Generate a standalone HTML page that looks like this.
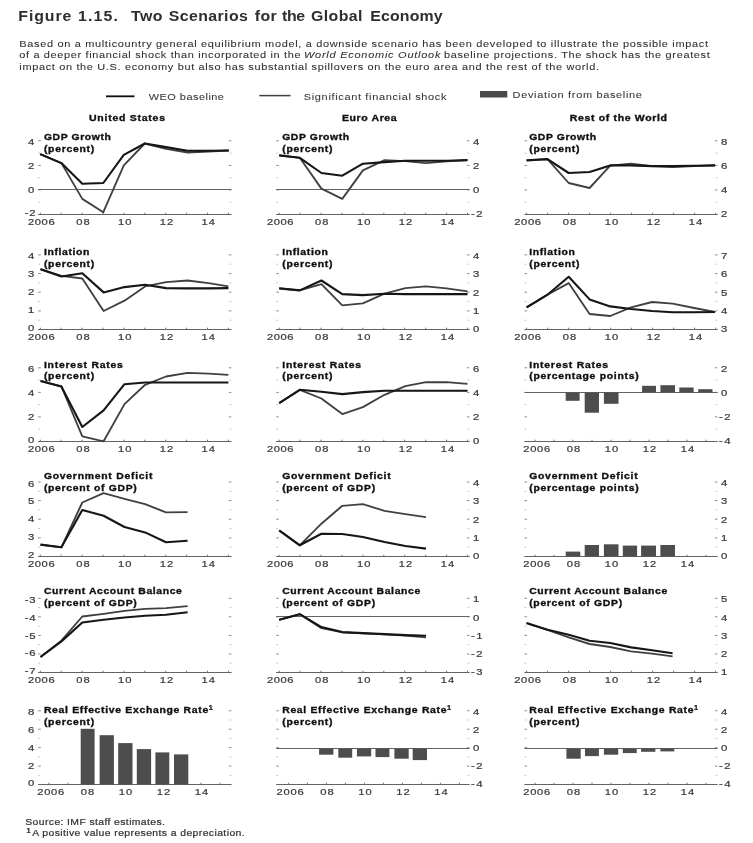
<!DOCTYPE html>
<html><head><meta charset="utf-8"><title>Figure 1.15. Two Scenarios for the Global Economy</title>
<style>
html,body{margin:0;padding:0;background:#fff;}
body{width:753px;height:843px;overflow:hidden;}
svg{display:block;font-family:"Liberation Sans",sans-serif;}
</style></head><body>
<svg width="753" height="843" viewBox="0 0 753 843">
<rect width="753" height="843" fill="#ffffff"/>
<defs><filter id="soft" x="0" y="0" width="100%" height="100%" filterUnits="userSpaceOnUse"><feGaussianBlur stdDeviation="0.45"/></filter></defs>
<g filter="url(#soft)">
<text transform="scale(1.04,1)" y="20.9" font-size="15.3" font-weight="bold" fill="#2e2e2e"><tspan x="17.6" textLength="51.1" lengthAdjust="spacing">Figure</tspan> <tspan x="75.0" textLength="38.4" lengthAdjust="spacing">1.15.</tspan> <tspan x="126.0" textLength="30.3" lengthAdjust="spacing">Two</tspan> <tspan x="162.3" textLength="76.0" lengthAdjust="spacing">Scenarios</tspan> <tspan x="244.9" textLength="21.2" lengthAdjust="spacing">for</tspan> <tspan x="271.2" textLength="22.1" lengthAdjust="spacing">the</tspan> <tspan x="299.0" textLength="49.6" lengthAdjust="spacing">Global</tspan> <tspan x="356.0" textLength="69.6" lengthAdjust="spacing">Economy</tspan></text>
<text transform="translate(19.3,47.1) scale(1.12,1)" font-size="9.8" stroke="#303030" stroke-width="0.08" fill="#303030" textLength="614.9" lengthAdjust="spacing">Based on a multicountry general equilibrium model, a downside scenario has been developed to illustrate the possible impact</text>
<text transform="translate(19.3,58.4) scale(1.12,1)" font-size="9.8" stroke="#303030" stroke-width="0.08" fill="#303030" textLength="251.1" lengthAdjust="spacing">of a deeper financial shock than incorporated in the</text>
<text transform="translate(304.0,58.4) scale(1.12,1)" font-size="9.8" font-style="italic" stroke="#303030" stroke-width="0.08" fill="#303030" textLength="121.8" lengthAdjust="spacing">World Economic Outlook</text>
<text transform="translate(443.9,58.4) scale(1.12,1)" font-size="9.8" stroke="#303030" stroke-width="0.08" fill="#303030" textLength="237.4" lengthAdjust="spacing">baseline projections. The shock has the greatest</text>
<text transform="translate(19.3,70.0) scale(1.12,1)" font-size="9.8" stroke="#303030" stroke-width="0.08" fill="#303030" textLength="517.6" lengthAdjust="spacing">impact on the U.S. economy but also has substantial spillovers on the euro area and the rest of the world.</text>
<line x1="106" y1="96.3" x2="134.5" y2="96.3" stroke="#111" stroke-width="1.8"/>
<text transform="translate(148.7,99.6) scale(1.12,1)" font-size="9.8" stroke="#383838" stroke-width="0.08" fill="#383838" textLength="67.2" lengthAdjust="spacing">WEO baseline</text>
<line x1="259.3" y1="95.6" x2="290.5" y2="95.6" stroke="#3c3c3c" stroke-width="1.5"/>
<text transform="translate(303.8,99.6) scale(1.12,1)" font-size="9.8" stroke="#383838" stroke-width="0.08" fill="#383838" textLength="127.4" lengthAdjust="spacing">Significant financial shock</text>
<rect x="480" y="91" width="27.3" height="6.5" fill="#4a4a4a"/>
<text transform="translate(512.6,98.3) scale(1.12,1)" font-size="9.8" stroke="#383838" stroke-width="0.08" fill="#383838" textLength="115.5" lengthAdjust="spacing">Deviation from baseline</text>
<text transform="translate(89.0,120.7) scale(1.12,1)" font-size="9.4" font-weight="bold" stroke="#111" stroke-width="0.35" fill="#111" textLength="67.9" lengthAdjust="spacing">United States</text>
<text transform="translate(342.0,120.7) scale(1.12,1)" font-size="9.4" font-weight="bold" stroke="#111" stroke-width="0.35" fill="#111" textLength="48.8" lengthAdjust="spacing">Euro Area</text>
<text transform="translate(569.7,120.7) scale(1.12,1)" font-size="9.4" font-weight="bold" stroke="#111" stroke-width="0.35" fill="#111" textLength="86.9" lengthAdjust="spacing">Rest of the World</text>
<line x1="38.2" y1="140.8" x2="40.8" y2="140.8" stroke="#8c8c8c" stroke-width="1"/>
<line x1="228.8" y1="140.8" x2="231.4" y2="140.8" stroke="#8c8c8c" stroke-width="1"/>
<line x1="38.2" y1="153.1" x2="40.2" y2="153.1" stroke="#c6c6c6" stroke-width="1"/>
<line x1="229.4" y1="153.1" x2="231.4" y2="153.1" stroke="#c6c6c6" stroke-width="1"/>
<line x1="38.2" y1="165.4" x2="40.8" y2="165.4" stroke="#8c8c8c" stroke-width="1"/>
<line x1="228.8" y1="165.4" x2="231.4" y2="165.4" stroke="#8c8c8c" stroke-width="1"/>
<line x1="38.2" y1="177.7" x2="40.2" y2="177.7" stroke="#c6c6c6" stroke-width="1"/>
<line x1="229.4" y1="177.7" x2="231.4" y2="177.7" stroke="#c6c6c6" stroke-width="1"/>
<line x1="38.2" y1="189.9" x2="40.8" y2="189.9" stroke="#8c8c8c" stroke-width="1"/>
<line x1="228.8" y1="189.9" x2="231.4" y2="189.9" stroke="#8c8c8c" stroke-width="1"/>
<line x1="38.2" y1="202.2" x2="40.2" y2="202.2" stroke="#c6c6c6" stroke-width="1"/>
<line x1="229.4" y1="202.2" x2="231.4" y2="202.2" stroke="#c6c6c6" stroke-width="1"/>
<line x1="38.2" y1="214.5" x2="40.8" y2="214.5" stroke="#8c8c8c" stroke-width="1"/>
<line x1="228.8" y1="214.5" x2="231.4" y2="214.5" stroke="#8c8c8c" stroke-width="1"/>
<text transform="translate(28.0,145.3) scale(1.22,1)" font-size="9.3" stroke="#3a3a3a" stroke-width="0.22" fill="#3a3a3a" textLength="5.3" lengthAdjust="spacing">4</text>
<text transform="translate(28.0,168.9) scale(1.22,1)" font-size="9.3" stroke="#3a3a3a" stroke-width="0.22" fill="#3a3a3a" textLength="5.3" lengthAdjust="spacing">2</text>
<text transform="translate(28.0,192.6) scale(1.22,1)" font-size="9.3" stroke="#3a3a3a" stroke-width="0.22" fill="#3a3a3a" textLength="5.3" lengthAdjust="spacing">0</text>
<text transform="translate(24.7,216.2) scale(1.22,1)" font-size="9.3" stroke="#3a3a3a" stroke-width="0.22" fill="#3a3a3a" textLength="8.9" lengthAdjust="spacing">-2</text>
<line x1="38.2" y1="189.5" x2="231.4" y2="189.5" stroke="#646464" stroke-width="1"/>
<line x1="38.2" y1="214.5" x2="231.4" y2="214.5" stroke="#646464" stroke-width="1"/>
<line x1="40.3" y1="212.7" x2="40.3" y2="214.5" stroke="#646464" stroke-width="0.9"/>
<line x1="61.2" y1="212.7" x2="61.2" y2="214.5" stroke="#646464" stroke-width="0.9"/>
<line x1="82.1" y1="212.7" x2="82.1" y2="214.5" stroke="#646464" stroke-width="0.9"/>
<line x1="103.0" y1="212.7" x2="103.0" y2="214.5" stroke="#646464" stroke-width="0.9"/>
<line x1="123.9" y1="212.7" x2="123.9" y2="214.5" stroke="#646464" stroke-width="0.9"/>
<line x1="144.8" y1="212.7" x2="144.8" y2="214.5" stroke="#646464" stroke-width="0.9"/>
<line x1="165.7" y1="212.7" x2="165.7" y2="214.5" stroke="#646464" stroke-width="0.9"/>
<line x1="186.6" y1="212.7" x2="186.6" y2="214.5" stroke="#646464" stroke-width="0.9"/>
<line x1="207.5" y1="212.7" x2="207.5" y2="214.5" stroke="#646464" stroke-width="0.9"/>
<line x1="228.4" y1="212.7" x2="228.4" y2="214.5" stroke="#646464" stroke-width="0.9"/>
<text transform="translate(28.0,225.3) scale(1.2,1)" font-size="9.3" stroke="#3a3a3a" stroke-width="0.22" fill="#3a3a3a" textLength="22.2" lengthAdjust="spacing">2006</text>
<text transform="translate(76.2,225.3) scale(1.2,1)" font-size="9.3" stroke="#3a3a3a" stroke-width="0.22" fill="#3a3a3a" textLength="11.2" lengthAdjust="spacing">08</text>
<text transform="translate(118.0,225.3) scale(1.2,1)" font-size="9.3" stroke="#3a3a3a" stroke-width="0.22" fill="#3a3a3a" textLength="11.2" lengthAdjust="spacing">10</text>
<text transform="translate(159.8,225.3) scale(1.2,1)" font-size="9.3" stroke="#3a3a3a" stroke-width="0.22" fill="#3a3a3a" textLength="11.2" lengthAdjust="spacing">12</text>
<text transform="translate(201.6,225.3) scale(1.2,1)" font-size="9.3" stroke="#3a3a3a" stroke-width="0.22" fill="#3a3a3a" textLength="11.2" lengthAdjust="spacing">14</text>
<polyline points="40.2,154.1 61.4,163.1 82.3,198.9 103.3,212.2 123.8,165.4 144.8,143.5 166.0,148.8 187.6,152.5 208.5,151.5 228.8,150.5" fill="none" stroke="#414141" stroke-width="1.85" stroke-linejoin="round"/>
<polyline points="40.2,154.1 61.4,163.1 82.3,183.7 103.3,183.0 123.8,154.8 144.8,143.5 166.0,147.1 187.6,150.8 208.5,150.8 228.8,150.5" fill="none" stroke="#151515" stroke-width="2.1" stroke-linejoin="round"/>
<text transform="translate(43.9,140.1) scale(1.12,1)" font-size="9.3" font-weight="bold" stroke="#111" stroke-width="0.35" fill="#111" textLength="59.8" lengthAdjust="spacing">GDP Growth</text>
<text transform="translate(43.9,152.2) scale(1.12,1)" font-size="9.3" font-weight="bold" stroke="#111" stroke-width="0.35" fill="#111" textLength="44.9" lengthAdjust="spacing">(percent)</text>
<line x1="276.2" y1="140.8" x2="278.8" y2="140.8" stroke="#8c8c8c" stroke-width="1"/>
<line x1="466.9" y1="140.8" x2="469.5" y2="140.8" stroke="#8c8c8c" stroke-width="1"/>
<line x1="276.2" y1="153.1" x2="278.2" y2="153.1" stroke="#c6c6c6" stroke-width="1"/>
<line x1="467.5" y1="153.1" x2="469.5" y2="153.1" stroke="#c6c6c6" stroke-width="1"/>
<line x1="276.2" y1="165.4" x2="278.8" y2="165.4" stroke="#8c8c8c" stroke-width="1"/>
<line x1="466.9" y1="165.4" x2="469.5" y2="165.4" stroke="#8c8c8c" stroke-width="1"/>
<line x1="276.2" y1="177.7" x2="278.2" y2="177.7" stroke="#c6c6c6" stroke-width="1"/>
<line x1="467.5" y1="177.7" x2="469.5" y2="177.7" stroke="#c6c6c6" stroke-width="1"/>
<line x1="276.2" y1="189.9" x2="278.8" y2="189.9" stroke="#8c8c8c" stroke-width="1"/>
<line x1="466.9" y1="189.9" x2="469.5" y2="189.9" stroke="#8c8c8c" stroke-width="1"/>
<line x1="276.2" y1="202.2" x2="278.2" y2="202.2" stroke="#c6c6c6" stroke-width="1"/>
<line x1="467.5" y1="202.2" x2="469.5" y2="202.2" stroke="#c6c6c6" stroke-width="1"/>
<line x1="276.2" y1="214.5" x2="278.8" y2="214.5" stroke="#8c8c8c" stroke-width="1"/>
<line x1="466.9" y1="214.5" x2="469.5" y2="214.5" stroke="#8c8c8c" stroke-width="1"/>
<text transform="translate(473.0,144.8) scale(1.22,1)" font-size="9.3" stroke="#3a3a3a" stroke-width="0.22" fill="#3a3a3a" textLength="5.3" lengthAdjust="spacing">4</text>
<text transform="translate(473.0,168.9) scale(1.22,1)" font-size="9.3" stroke="#3a3a3a" stroke-width="0.22" fill="#3a3a3a" textLength="5.3" lengthAdjust="spacing">2</text>
<text transform="translate(473.0,193.0) scale(1.22,1)" font-size="9.3" stroke="#3a3a3a" stroke-width="0.22" fill="#3a3a3a" textLength="5.3" lengthAdjust="spacing">0</text>
<text transform="translate(470.9,217.1) scale(1.22,1)" font-size="9.3" stroke="#3a3a3a" stroke-width="0.22" fill="#3a3a3a" textLength="9.5" lengthAdjust="spacing">-2</text>
<line x1="276.2" y1="189.5" x2="469.5" y2="189.5" stroke="#646464" stroke-width="1"/>
<line x1="276.2" y1="214.5" x2="469.5" y2="214.5" stroke="#646464" stroke-width="1"/>
<line x1="279.2" y1="212.7" x2="279.2" y2="214.5" stroke="#646464" stroke-width="0.9"/>
<line x1="300.1" y1="212.7" x2="300.1" y2="214.5" stroke="#646464" stroke-width="0.9"/>
<line x1="321.0" y1="212.7" x2="321.0" y2="214.5" stroke="#646464" stroke-width="0.9"/>
<line x1="342.0" y1="212.7" x2="342.0" y2="214.5" stroke="#646464" stroke-width="0.9"/>
<line x1="362.9" y1="212.7" x2="362.9" y2="214.5" stroke="#646464" stroke-width="0.9"/>
<line x1="383.8" y1="212.7" x2="383.8" y2="214.5" stroke="#646464" stroke-width="0.9"/>
<line x1="404.7" y1="212.7" x2="404.7" y2="214.5" stroke="#646464" stroke-width="0.9"/>
<line x1="425.7" y1="212.7" x2="425.7" y2="214.5" stroke="#646464" stroke-width="0.9"/>
<line x1="446.6" y1="212.7" x2="446.6" y2="214.5" stroke="#646464" stroke-width="0.9"/>
<line x1="467.5" y1="212.7" x2="467.5" y2="214.5" stroke="#646464" stroke-width="0.9"/>
<text transform="translate(266.9,225.3) scale(1.2,1)" font-size="9.3" stroke="#3a3a3a" stroke-width="0.22" fill="#3a3a3a" textLength="22.2" lengthAdjust="spacing">2006</text>
<text transform="translate(315.1,225.3) scale(1.2,1)" font-size="9.3" stroke="#3a3a3a" stroke-width="0.22" fill="#3a3a3a" textLength="11.2" lengthAdjust="spacing">08</text>
<text transform="translate(357.0,225.3) scale(1.2,1)" font-size="9.3" stroke="#3a3a3a" stroke-width="0.22" fill="#3a3a3a" textLength="11.2" lengthAdjust="spacing">10</text>
<text transform="translate(398.8,225.3) scale(1.2,1)" font-size="9.3" stroke="#3a3a3a" stroke-width="0.22" fill="#3a3a3a" textLength="11.2" lengthAdjust="spacing">12</text>
<text transform="translate(440.7,225.3) scale(1.2,1)" font-size="9.3" stroke="#3a3a3a" stroke-width="0.22" fill="#3a3a3a" textLength="11.2" lengthAdjust="spacing">14</text>
<polyline points="279.2,155.4 299.8,157.8 321.4,188.6 342.3,198.9 362.9,170.4 384.5,160.1 405.4,161.1 426.0,163.1 446.5,161.4 467.5,160.1" fill="none" stroke="#414141" stroke-width="1.85" stroke-linejoin="round"/>
<polyline points="279.2,155.4 299.8,157.8 321.4,173.0 342.3,175.7 362.9,163.7 384.5,162.1 405.4,160.8 426.0,160.8 446.5,160.8 467.5,160.1" fill="none" stroke="#151515" stroke-width="2.1" stroke-linejoin="round"/>
<text transform="translate(282.2,140.1) scale(1.12,1)" font-size="9.3" font-weight="bold" stroke="#111" stroke-width="0.35" fill="#111" textLength="59.8" lengthAdjust="spacing">GDP Growth</text>
<text transform="translate(282.2,152.2) scale(1.12,1)" font-size="9.3" font-weight="bold" stroke="#111" stroke-width="0.35" fill="#111" textLength="44.9" lengthAdjust="spacing">(percent)</text>
<line x1="524.5" y1="140.8" x2="527.1" y2="140.8" stroke="#8c8c8c" stroke-width="1"/>
<line x1="714.9" y1="140.8" x2="717.5" y2="140.8" stroke="#8c8c8c" stroke-width="1"/>
<line x1="524.5" y1="153.1" x2="526.5" y2="153.1" stroke="#c6c6c6" stroke-width="1"/>
<line x1="715.5" y1="153.1" x2="717.5" y2="153.1" stroke="#c6c6c6" stroke-width="1"/>
<line x1="524.5" y1="165.4" x2="527.1" y2="165.4" stroke="#8c8c8c" stroke-width="1"/>
<line x1="714.9" y1="165.4" x2="717.5" y2="165.4" stroke="#8c8c8c" stroke-width="1"/>
<line x1="524.5" y1="177.7" x2="526.5" y2="177.7" stroke="#c6c6c6" stroke-width="1"/>
<line x1="715.5" y1="177.7" x2="717.5" y2="177.7" stroke="#c6c6c6" stroke-width="1"/>
<line x1="524.5" y1="189.9" x2="527.1" y2="189.9" stroke="#8c8c8c" stroke-width="1"/>
<line x1="714.9" y1="189.9" x2="717.5" y2="189.9" stroke="#8c8c8c" stroke-width="1"/>
<line x1="524.5" y1="202.2" x2="526.5" y2="202.2" stroke="#c6c6c6" stroke-width="1"/>
<line x1="715.5" y1="202.2" x2="717.5" y2="202.2" stroke="#c6c6c6" stroke-width="1"/>
<line x1="524.5" y1="214.5" x2="527.1" y2="214.5" stroke="#8c8c8c" stroke-width="1"/>
<line x1="714.9" y1="214.5" x2="717.5" y2="214.5" stroke="#8c8c8c" stroke-width="1"/>
<text transform="translate(721.0,144.8) scale(1.22,1)" font-size="9.3" stroke="#3a3a3a" stroke-width="0.22" fill="#3a3a3a" textLength="5.3" lengthAdjust="spacing">8</text>
<text transform="translate(721.0,168.9) scale(1.22,1)" font-size="9.3" stroke="#3a3a3a" stroke-width="0.22" fill="#3a3a3a" textLength="5.3" lengthAdjust="spacing">6</text>
<text transform="translate(721.0,193.0) scale(1.22,1)" font-size="9.3" stroke="#3a3a3a" stroke-width="0.22" fill="#3a3a3a" textLength="5.3" lengthAdjust="spacing">4</text>
<text transform="translate(721.0,217.1) scale(1.22,1)" font-size="9.3" stroke="#3a3a3a" stroke-width="0.22" fill="#3a3a3a" textLength="5.3" lengthAdjust="spacing">2</text>
<line x1="524.5" y1="214.5" x2="717.5" y2="214.5" stroke="#646464" stroke-width="1"/>
<line x1="526.6" y1="212.7" x2="526.6" y2="214.5" stroke="#646464" stroke-width="0.9"/>
<line x1="547.6" y1="212.7" x2="547.6" y2="214.5" stroke="#646464" stroke-width="0.9"/>
<line x1="568.6" y1="212.7" x2="568.6" y2="214.5" stroke="#646464" stroke-width="0.9"/>
<line x1="589.6" y1="212.7" x2="589.6" y2="214.5" stroke="#646464" stroke-width="0.9"/>
<line x1="610.6" y1="212.7" x2="610.6" y2="214.5" stroke="#646464" stroke-width="0.9"/>
<line x1="631.6" y1="212.7" x2="631.6" y2="214.5" stroke="#646464" stroke-width="0.9"/>
<line x1="652.6" y1="212.7" x2="652.6" y2="214.5" stroke="#646464" stroke-width="0.9"/>
<line x1="673.6" y1="212.7" x2="673.6" y2="214.5" stroke="#646464" stroke-width="0.9"/>
<line x1="694.6" y1="212.7" x2="694.6" y2="214.5" stroke="#646464" stroke-width="0.9"/>
<line x1="715.6" y1="212.7" x2="715.6" y2="214.5" stroke="#646464" stroke-width="0.9"/>
<text transform="translate(514.3,225.3) scale(1.2,1)" font-size="9.3" stroke="#3a3a3a" stroke-width="0.22" fill="#3a3a3a" textLength="22.2" lengthAdjust="spacing">2006</text>
<text transform="translate(562.7,225.3) scale(1.2,1)" font-size="9.3" stroke="#3a3a3a" stroke-width="0.22" fill="#3a3a3a" textLength="11.2" lengthAdjust="spacing">08</text>
<text transform="translate(604.7,225.3) scale(1.2,1)" font-size="9.3" stroke="#3a3a3a" stroke-width="0.22" fill="#3a3a3a" textLength="11.2" lengthAdjust="spacing">10</text>
<text transform="translate(646.7,225.3) scale(1.2,1)" font-size="9.3" stroke="#3a3a3a" stroke-width="0.22" fill="#3a3a3a" textLength="11.2" lengthAdjust="spacing">12</text>
<text transform="translate(688.7,225.3) scale(1.2,1)" font-size="9.3" stroke="#3a3a3a" stroke-width="0.22" fill="#3a3a3a" textLength="11.2" lengthAdjust="spacing">14</text>
<polyline points="526.6,160.4 547.5,159.1 568.7,183.0 589.6,188.0 610.2,165.7 631.1,163.7 652.1,166.1 672.6,167.1 694.2,166.1 715.1,165.4" fill="none" stroke="#414141" stroke-width="1.85" stroke-linejoin="round"/>
<polyline points="526.6,160.4 547.5,159.1 568.7,173.0 589.6,172.0 610.2,165.4 631.1,165.4 652.1,166.1 672.6,166.1 694.2,165.7 715.1,165.4" fill="none" stroke="#151515" stroke-width="2.1" stroke-linejoin="round"/>
<text transform="translate(529.2,140.1) scale(1.12,1)" font-size="9.3" font-weight="bold" stroke="#111" stroke-width="0.35" fill="#111" textLength="59.8" lengthAdjust="spacing">GDP Growth</text>
<text transform="translate(529.2,152.2) scale(1.12,1)" font-size="9.3" font-weight="bold" stroke="#111" stroke-width="0.35" fill="#111" textLength="44.9" lengthAdjust="spacing">(percent)</text>
<line x1="38.2" y1="254.9" x2="40.8" y2="254.9" stroke="#8c8c8c" stroke-width="1"/>
<line x1="228.8" y1="254.9" x2="231.4" y2="254.9" stroke="#8c8c8c" stroke-width="1"/>
<line x1="38.2" y1="264.2" x2="40.2" y2="264.2" stroke="#c6c6c6" stroke-width="1"/>
<line x1="229.4" y1="264.2" x2="231.4" y2="264.2" stroke="#c6c6c6" stroke-width="1"/>
<line x1="38.2" y1="273.6" x2="40.8" y2="273.6" stroke="#8c8c8c" stroke-width="1"/>
<line x1="228.8" y1="273.6" x2="231.4" y2="273.6" stroke="#8c8c8c" stroke-width="1"/>
<line x1="38.2" y1="282.9" x2="40.2" y2="282.9" stroke="#c6c6c6" stroke-width="1"/>
<line x1="229.4" y1="282.9" x2="231.4" y2="282.9" stroke="#c6c6c6" stroke-width="1"/>
<line x1="38.2" y1="292.2" x2="40.8" y2="292.2" stroke="#8c8c8c" stroke-width="1"/>
<line x1="228.8" y1="292.2" x2="231.4" y2="292.2" stroke="#8c8c8c" stroke-width="1"/>
<line x1="38.2" y1="301.5" x2="40.2" y2="301.5" stroke="#c6c6c6" stroke-width="1"/>
<line x1="229.4" y1="301.5" x2="231.4" y2="301.5" stroke="#c6c6c6" stroke-width="1"/>
<line x1="38.2" y1="310.9" x2="40.8" y2="310.9" stroke="#8c8c8c" stroke-width="1"/>
<line x1="228.8" y1="310.9" x2="231.4" y2="310.9" stroke="#8c8c8c" stroke-width="1"/>
<line x1="38.2" y1="320.2" x2="40.2" y2="320.2" stroke="#c6c6c6" stroke-width="1"/>
<line x1="229.4" y1="320.2" x2="231.4" y2="320.2" stroke="#c6c6c6" stroke-width="1"/>
<line x1="38.2" y1="329.5" x2="40.8" y2="329.5" stroke="#8c8c8c" stroke-width="1"/>
<line x1="228.8" y1="329.5" x2="231.4" y2="329.5" stroke="#8c8c8c" stroke-width="1"/>
<text transform="translate(28.0,259.4) scale(1.22,1)" font-size="9.3" stroke="#3a3a3a" stroke-width="0.22" fill="#3a3a3a" textLength="5.3" lengthAdjust="spacing">4</text>
<text transform="translate(28.0,277.4) scale(1.22,1)" font-size="9.3" stroke="#3a3a3a" stroke-width="0.22" fill="#3a3a3a" textLength="5.3" lengthAdjust="spacing">3</text>
<text transform="translate(28.0,295.3) scale(1.22,1)" font-size="9.3" stroke="#3a3a3a" stroke-width="0.22" fill="#3a3a3a" textLength="5.3" lengthAdjust="spacing">2</text>
<text transform="translate(28.0,313.2) scale(1.22,1)" font-size="9.3" stroke="#3a3a3a" stroke-width="0.22" fill="#3a3a3a" textLength="5.3" lengthAdjust="spacing">1</text>
<text transform="translate(28.0,331.2) scale(1.22,1)" font-size="9.3" stroke="#3a3a3a" stroke-width="0.22" fill="#3a3a3a" textLength="5.3" lengthAdjust="spacing">0</text>
<line x1="38.2" y1="329.5" x2="231.4" y2="329.5" stroke="#646464" stroke-width="1"/>
<line x1="40.3" y1="327.7" x2="40.3" y2="329.5" stroke="#646464" stroke-width="0.9"/>
<line x1="61.2" y1="327.7" x2="61.2" y2="329.5" stroke="#646464" stroke-width="0.9"/>
<line x1="82.1" y1="327.7" x2="82.1" y2="329.5" stroke="#646464" stroke-width="0.9"/>
<line x1="103.0" y1="327.7" x2="103.0" y2="329.5" stroke="#646464" stroke-width="0.9"/>
<line x1="123.9" y1="327.7" x2="123.9" y2="329.5" stroke="#646464" stroke-width="0.9"/>
<line x1="144.8" y1="327.7" x2="144.8" y2="329.5" stroke="#646464" stroke-width="0.9"/>
<line x1="165.7" y1="327.7" x2="165.7" y2="329.5" stroke="#646464" stroke-width="0.9"/>
<line x1="186.6" y1="327.7" x2="186.6" y2="329.5" stroke="#646464" stroke-width="0.9"/>
<line x1="207.5" y1="327.7" x2="207.5" y2="329.5" stroke="#646464" stroke-width="0.9"/>
<line x1="228.4" y1="327.7" x2="228.4" y2="329.5" stroke="#646464" stroke-width="0.9"/>
<text transform="translate(28.0,340.3) scale(1.2,1)" font-size="9.3" stroke="#3a3a3a" stroke-width="0.22" fill="#3a3a3a" textLength="22.2" lengthAdjust="spacing">2006</text>
<text transform="translate(76.2,340.3) scale(1.2,1)" font-size="9.3" stroke="#3a3a3a" stroke-width="0.22" fill="#3a3a3a" textLength="11.2" lengthAdjust="spacing">08</text>
<text transform="translate(118.0,340.3) scale(1.2,1)" font-size="9.3" stroke="#3a3a3a" stroke-width="0.22" fill="#3a3a3a" textLength="11.2" lengthAdjust="spacing">10</text>
<text transform="translate(159.8,340.3) scale(1.2,1)" font-size="9.3" stroke="#3a3a3a" stroke-width="0.22" fill="#3a3a3a" textLength="11.2" lengthAdjust="spacing">12</text>
<text transform="translate(201.6,340.3) scale(1.2,1)" font-size="9.3" stroke="#3a3a3a" stroke-width="0.22" fill="#3a3a3a" textLength="11.2" lengthAdjust="spacing">14</text>
<polyline points="40.5,269.2 61.4,275.8 82.3,278.5 103.6,311.0 124.5,300.7 145.1,286.4 166.0,282.1 187.6,280.5 208.5,283.1 228.4,286.4" fill="none" stroke="#414141" stroke-width="1.85" stroke-linejoin="round"/>
<polyline points="40.5,269.2 61.4,276.5 82.3,273.2 103.6,292.4 124.5,287.1 145.1,284.8 166.0,288.1 187.6,288.4 208.5,288.4 228.4,288.1" fill="none" stroke="#151515" stroke-width="2.1" stroke-linejoin="round"/>
<text transform="translate(43.9,254.6) scale(1.12,1)" font-size="9.3" font-weight="bold" stroke="#111" stroke-width="0.35" fill="#111" textLength="40.7" lengthAdjust="spacing">Inflation</text>
<text transform="translate(43.9,266.6) scale(1.12,1)" font-size="9.3" font-weight="bold" stroke="#111" stroke-width="0.35" fill="#111" textLength="44.9" lengthAdjust="spacing">(percent)</text>
<line x1="276.2" y1="254.9" x2="278.8" y2="254.9" stroke="#8c8c8c" stroke-width="1"/>
<line x1="466.9" y1="254.9" x2="469.5" y2="254.9" stroke="#8c8c8c" stroke-width="1"/>
<line x1="276.2" y1="264.2" x2="278.2" y2="264.2" stroke="#c6c6c6" stroke-width="1"/>
<line x1="467.5" y1="264.2" x2="469.5" y2="264.2" stroke="#c6c6c6" stroke-width="1"/>
<line x1="276.2" y1="273.6" x2="278.8" y2="273.6" stroke="#8c8c8c" stroke-width="1"/>
<line x1="466.9" y1="273.6" x2="469.5" y2="273.6" stroke="#8c8c8c" stroke-width="1"/>
<line x1="276.2" y1="282.9" x2="278.2" y2="282.9" stroke="#c6c6c6" stroke-width="1"/>
<line x1="467.5" y1="282.9" x2="469.5" y2="282.9" stroke="#c6c6c6" stroke-width="1"/>
<line x1="276.2" y1="292.2" x2="278.8" y2="292.2" stroke="#8c8c8c" stroke-width="1"/>
<line x1="466.9" y1="292.2" x2="469.5" y2="292.2" stroke="#8c8c8c" stroke-width="1"/>
<line x1="276.2" y1="301.5" x2="278.2" y2="301.5" stroke="#c6c6c6" stroke-width="1"/>
<line x1="467.5" y1="301.5" x2="469.5" y2="301.5" stroke="#c6c6c6" stroke-width="1"/>
<line x1="276.2" y1="310.9" x2="278.8" y2="310.9" stroke="#8c8c8c" stroke-width="1"/>
<line x1="466.9" y1="310.9" x2="469.5" y2="310.9" stroke="#8c8c8c" stroke-width="1"/>
<line x1="276.2" y1="320.2" x2="278.2" y2="320.2" stroke="#c6c6c6" stroke-width="1"/>
<line x1="467.5" y1="320.2" x2="469.5" y2="320.2" stroke="#c6c6c6" stroke-width="1"/>
<line x1="276.2" y1="329.5" x2="278.8" y2="329.5" stroke="#8c8c8c" stroke-width="1"/>
<line x1="466.9" y1="329.5" x2="469.5" y2="329.5" stroke="#8c8c8c" stroke-width="1"/>
<text transform="translate(473.0,258.9) scale(1.22,1)" font-size="9.3" stroke="#3a3a3a" stroke-width="0.22" fill="#3a3a3a" textLength="5.3" lengthAdjust="spacing">4</text>
<text transform="translate(473.0,277.2) scale(1.22,1)" font-size="9.3" stroke="#3a3a3a" stroke-width="0.22" fill="#3a3a3a" textLength="5.3" lengthAdjust="spacing">3</text>
<text transform="translate(473.0,295.5) scale(1.22,1)" font-size="9.3" stroke="#3a3a3a" stroke-width="0.22" fill="#3a3a3a" textLength="5.3" lengthAdjust="spacing">2</text>
<text transform="translate(473.0,313.8) scale(1.22,1)" font-size="9.3" stroke="#3a3a3a" stroke-width="0.22" fill="#3a3a3a" textLength="5.3" lengthAdjust="spacing">1</text>
<text transform="translate(473.0,332.1) scale(1.22,1)" font-size="9.3" stroke="#3a3a3a" stroke-width="0.22" fill="#3a3a3a" textLength="5.3" lengthAdjust="spacing">0</text>
<line x1="276.2" y1="329.5" x2="469.5" y2="329.5" stroke="#646464" stroke-width="1"/>
<line x1="279.2" y1="327.7" x2="279.2" y2="329.5" stroke="#646464" stroke-width="0.9"/>
<line x1="300.1" y1="327.7" x2="300.1" y2="329.5" stroke="#646464" stroke-width="0.9"/>
<line x1="321.0" y1="327.7" x2="321.0" y2="329.5" stroke="#646464" stroke-width="0.9"/>
<line x1="342.0" y1="327.7" x2="342.0" y2="329.5" stroke="#646464" stroke-width="0.9"/>
<line x1="362.9" y1="327.7" x2="362.9" y2="329.5" stroke="#646464" stroke-width="0.9"/>
<line x1="383.8" y1="327.7" x2="383.8" y2="329.5" stroke="#646464" stroke-width="0.9"/>
<line x1="404.7" y1="327.7" x2="404.7" y2="329.5" stroke="#646464" stroke-width="0.9"/>
<line x1="425.7" y1="327.7" x2="425.7" y2="329.5" stroke="#646464" stroke-width="0.9"/>
<line x1="446.6" y1="327.7" x2="446.6" y2="329.5" stroke="#646464" stroke-width="0.9"/>
<line x1="467.5" y1="327.7" x2="467.5" y2="329.5" stroke="#646464" stroke-width="0.9"/>
<text transform="translate(266.9,340.3) scale(1.2,1)" font-size="9.3" stroke="#3a3a3a" stroke-width="0.22" fill="#3a3a3a" textLength="22.2" lengthAdjust="spacing">2006</text>
<text transform="translate(315.1,340.3) scale(1.2,1)" font-size="9.3" stroke="#3a3a3a" stroke-width="0.22" fill="#3a3a3a" textLength="11.2" lengthAdjust="spacing">08</text>
<text transform="translate(357.0,340.3) scale(1.2,1)" font-size="9.3" stroke="#3a3a3a" stroke-width="0.22" fill="#3a3a3a" textLength="11.2" lengthAdjust="spacing">10</text>
<text transform="translate(398.8,340.3) scale(1.2,1)" font-size="9.3" stroke="#3a3a3a" stroke-width="0.22" fill="#3a3a3a" textLength="11.2" lengthAdjust="spacing">12</text>
<text transform="translate(440.7,340.3) scale(1.2,1)" font-size="9.3" stroke="#3a3a3a" stroke-width="0.22" fill="#3a3a3a" textLength="11.2" lengthAdjust="spacing">14</text>
<polyline points="279.2,288.4 299.8,290.4 321.4,284.1 342.3,305.4 362.9,303.4 384.5,293.7 405.4,288.1 426.0,286.4 446.5,288.4 467.5,291.4" fill="none" stroke="#414141" stroke-width="1.85" stroke-linejoin="round"/>
<polyline points="279.2,288.4 299.8,290.4 321.4,280.5 342.3,294.1 362.9,295.1 384.5,293.7 405.4,294.1 426.0,294.1 446.5,294.1 467.5,294.1" fill="none" stroke="#151515" stroke-width="2.1" stroke-linejoin="round"/>
<text transform="translate(282.2,254.6) scale(1.12,1)" font-size="9.3" font-weight="bold" stroke="#111" stroke-width="0.35" fill="#111" textLength="40.7" lengthAdjust="spacing">Inflation</text>
<text transform="translate(282.2,266.6) scale(1.12,1)" font-size="9.3" font-weight="bold" stroke="#111" stroke-width="0.35" fill="#111" textLength="44.9" lengthAdjust="spacing">(percent)</text>
<line x1="524.5" y1="254.9" x2="527.1" y2="254.9" stroke="#8c8c8c" stroke-width="1"/>
<line x1="714.9" y1="254.9" x2="717.5" y2="254.9" stroke="#8c8c8c" stroke-width="1"/>
<line x1="524.5" y1="264.2" x2="526.5" y2="264.2" stroke="#c6c6c6" stroke-width="1"/>
<line x1="715.5" y1="264.2" x2="717.5" y2="264.2" stroke="#c6c6c6" stroke-width="1"/>
<line x1="524.5" y1="273.6" x2="527.1" y2="273.6" stroke="#8c8c8c" stroke-width="1"/>
<line x1="714.9" y1="273.6" x2="717.5" y2="273.6" stroke="#8c8c8c" stroke-width="1"/>
<line x1="524.5" y1="282.9" x2="526.5" y2="282.9" stroke="#c6c6c6" stroke-width="1"/>
<line x1="715.5" y1="282.9" x2="717.5" y2="282.9" stroke="#c6c6c6" stroke-width="1"/>
<line x1="524.5" y1="292.2" x2="527.1" y2="292.2" stroke="#8c8c8c" stroke-width="1"/>
<line x1="714.9" y1="292.2" x2="717.5" y2="292.2" stroke="#8c8c8c" stroke-width="1"/>
<line x1="524.5" y1="301.5" x2="526.5" y2="301.5" stroke="#c6c6c6" stroke-width="1"/>
<line x1="715.5" y1="301.5" x2="717.5" y2="301.5" stroke="#c6c6c6" stroke-width="1"/>
<line x1="524.5" y1="310.9" x2="527.1" y2="310.9" stroke="#8c8c8c" stroke-width="1"/>
<line x1="714.9" y1="310.9" x2="717.5" y2="310.9" stroke="#8c8c8c" stroke-width="1"/>
<line x1="524.5" y1="320.2" x2="526.5" y2="320.2" stroke="#c6c6c6" stroke-width="1"/>
<line x1="715.5" y1="320.2" x2="717.5" y2="320.2" stroke="#c6c6c6" stroke-width="1"/>
<line x1="524.5" y1="329.5" x2="527.1" y2="329.5" stroke="#8c8c8c" stroke-width="1"/>
<line x1="714.9" y1="329.5" x2="717.5" y2="329.5" stroke="#8c8c8c" stroke-width="1"/>
<text transform="translate(721.0,258.9) scale(1.22,1)" font-size="9.3" stroke="#3a3a3a" stroke-width="0.22" fill="#3a3a3a" textLength="5.3" lengthAdjust="spacing">7</text>
<text transform="translate(721.0,277.2) scale(1.22,1)" font-size="9.3" stroke="#3a3a3a" stroke-width="0.22" fill="#3a3a3a" textLength="5.3" lengthAdjust="spacing">6</text>
<text transform="translate(721.0,295.5) scale(1.22,1)" font-size="9.3" stroke="#3a3a3a" stroke-width="0.22" fill="#3a3a3a" textLength="5.3" lengthAdjust="spacing">5</text>
<text transform="translate(721.0,313.8) scale(1.22,1)" font-size="9.3" stroke="#3a3a3a" stroke-width="0.22" fill="#3a3a3a" textLength="5.3" lengthAdjust="spacing">4</text>
<text transform="translate(721.0,332.1) scale(1.22,1)" font-size="9.3" stroke="#3a3a3a" stroke-width="0.22" fill="#3a3a3a" textLength="5.3" lengthAdjust="spacing">3</text>
<line x1="524.5" y1="329.5" x2="717.5" y2="329.5" stroke="#646464" stroke-width="1"/>
<line x1="526.6" y1="327.7" x2="526.6" y2="329.5" stroke="#646464" stroke-width="0.9"/>
<line x1="547.6" y1="327.7" x2="547.6" y2="329.5" stroke="#646464" stroke-width="0.9"/>
<line x1="568.6" y1="327.7" x2="568.6" y2="329.5" stroke="#646464" stroke-width="0.9"/>
<line x1="589.6" y1="327.7" x2="589.6" y2="329.5" stroke="#646464" stroke-width="0.9"/>
<line x1="610.6" y1="327.7" x2="610.6" y2="329.5" stroke="#646464" stroke-width="0.9"/>
<line x1="631.6" y1="327.7" x2="631.6" y2="329.5" stroke="#646464" stroke-width="0.9"/>
<line x1="652.6" y1="327.7" x2="652.6" y2="329.5" stroke="#646464" stroke-width="0.9"/>
<line x1="673.6" y1="327.7" x2="673.6" y2="329.5" stroke="#646464" stroke-width="0.9"/>
<line x1="694.6" y1="327.7" x2="694.6" y2="329.5" stroke="#646464" stroke-width="0.9"/>
<line x1="715.6" y1="327.7" x2="715.6" y2="329.5" stroke="#646464" stroke-width="0.9"/>
<text transform="translate(514.3,340.3) scale(1.2,1)" font-size="9.3" stroke="#3a3a3a" stroke-width="0.22" fill="#3a3a3a" textLength="22.2" lengthAdjust="spacing">2006</text>
<text transform="translate(562.7,340.3) scale(1.2,1)" font-size="9.3" stroke="#3a3a3a" stroke-width="0.22" fill="#3a3a3a" textLength="11.2" lengthAdjust="spacing">08</text>
<text transform="translate(604.7,340.3) scale(1.2,1)" font-size="9.3" stroke="#3a3a3a" stroke-width="0.22" fill="#3a3a3a" textLength="11.2" lengthAdjust="spacing">10</text>
<text transform="translate(646.7,340.3) scale(1.2,1)" font-size="9.3" stroke="#3a3a3a" stroke-width="0.22" fill="#3a3a3a" textLength="11.2" lengthAdjust="spacing">12</text>
<text transform="translate(688.7,340.3) scale(1.2,1)" font-size="9.3" stroke="#3a3a3a" stroke-width="0.22" fill="#3a3a3a" textLength="11.2" lengthAdjust="spacing">14</text>
<polyline points="526.6,307.4 547.5,294.7 568.7,283.1 589.6,314.0 610.2,316.0 631.1,307.4 652.1,302.0 672.6,303.7 694.2,308.0 715.1,312.0" fill="none" stroke="#414141" stroke-width="1.85" stroke-linejoin="round"/>
<polyline points="526.6,307.4 547.5,294.7 568.7,276.8 589.6,299.4 610.2,306.4 631.1,309.0 652.1,311.0 672.6,312.3 694.2,312.3 715.1,312.0" fill="none" stroke="#151515" stroke-width="2.1" stroke-linejoin="round"/>
<text transform="translate(529.2,254.6) scale(1.12,1)" font-size="9.3" font-weight="bold" stroke="#111" stroke-width="0.35" fill="#111" textLength="40.7" lengthAdjust="spacing">Inflation</text>
<text transform="translate(529.2,266.6) scale(1.12,1)" font-size="9.3" font-weight="bold" stroke="#111" stroke-width="0.35" fill="#111" textLength="44.9" lengthAdjust="spacing">(percent)</text>
<line x1="38.2" y1="367.8" x2="40.8" y2="367.8" stroke="#8c8c8c" stroke-width="1"/>
<line x1="228.8" y1="367.8" x2="231.4" y2="367.8" stroke="#8c8c8c" stroke-width="1"/>
<line x1="38.2" y1="380.1" x2="40.2" y2="380.1" stroke="#c6c6c6" stroke-width="1"/>
<line x1="229.4" y1="380.1" x2="231.4" y2="380.1" stroke="#c6c6c6" stroke-width="1"/>
<line x1="38.2" y1="392.4" x2="40.8" y2="392.4" stroke="#8c8c8c" stroke-width="1"/>
<line x1="228.8" y1="392.4" x2="231.4" y2="392.4" stroke="#8c8c8c" stroke-width="1"/>
<line x1="38.2" y1="404.6" x2="40.2" y2="404.6" stroke="#c6c6c6" stroke-width="1"/>
<line x1="229.4" y1="404.6" x2="231.4" y2="404.6" stroke="#c6c6c6" stroke-width="1"/>
<line x1="38.2" y1="416.9" x2="40.8" y2="416.9" stroke="#8c8c8c" stroke-width="1"/>
<line x1="228.8" y1="416.9" x2="231.4" y2="416.9" stroke="#8c8c8c" stroke-width="1"/>
<line x1="38.2" y1="429.2" x2="40.2" y2="429.2" stroke="#c6c6c6" stroke-width="1"/>
<line x1="229.4" y1="429.2" x2="231.4" y2="429.2" stroke="#c6c6c6" stroke-width="1"/>
<line x1="38.2" y1="441.5" x2="40.8" y2="441.5" stroke="#8c8c8c" stroke-width="1"/>
<line x1="228.8" y1="441.5" x2="231.4" y2="441.5" stroke="#8c8c8c" stroke-width="1"/>
<text transform="translate(28.0,372.3) scale(1.22,1)" font-size="9.3" stroke="#3a3a3a" stroke-width="0.22" fill="#3a3a3a" textLength="5.3" lengthAdjust="spacing">6</text>
<text transform="translate(28.0,395.9) scale(1.22,1)" font-size="9.3" stroke="#3a3a3a" stroke-width="0.22" fill="#3a3a3a" textLength="5.3" lengthAdjust="spacing">4</text>
<text transform="translate(28.0,419.6) scale(1.22,1)" font-size="9.3" stroke="#3a3a3a" stroke-width="0.22" fill="#3a3a3a" textLength="5.3" lengthAdjust="spacing">2</text>
<text transform="translate(28.0,443.2) scale(1.22,1)" font-size="9.3" stroke="#3a3a3a" stroke-width="0.22" fill="#3a3a3a" textLength="5.3" lengthAdjust="spacing">0</text>
<line x1="38.2" y1="441.5" x2="231.4" y2="441.5" stroke="#646464" stroke-width="1"/>
<line x1="40.3" y1="439.7" x2="40.3" y2="441.5" stroke="#646464" stroke-width="0.9"/>
<line x1="61.2" y1="439.7" x2="61.2" y2="441.5" stroke="#646464" stroke-width="0.9"/>
<line x1="82.1" y1="439.7" x2="82.1" y2="441.5" stroke="#646464" stroke-width="0.9"/>
<line x1="103.0" y1="439.7" x2="103.0" y2="441.5" stroke="#646464" stroke-width="0.9"/>
<line x1="123.9" y1="439.7" x2="123.9" y2="441.5" stroke="#646464" stroke-width="0.9"/>
<line x1="144.8" y1="439.7" x2="144.8" y2="441.5" stroke="#646464" stroke-width="0.9"/>
<line x1="165.7" y1="439.7" x2="165.7" y2="441.5" stroke="#646464" stroke-width="0.9"/>
<line x1="186.6" y1="439.7" x2="186.6" y2="441.5" stroke="#646464" stroke-width="0.9"/>
<line x1="207.5" y1="439.7" x2="207.5" y2="441.5" stroke="#646464" stroke-width="0.9"/>
<line x1="228.4" y1="439.7" x2="228.4" y2="441.5" stroke="#646464" stroke-width="0.9"/>
<text transform="translate(28.0,452.3) scale(1.2,1)" font-size="9.3" stroke="#3a3a3a" stroke-width="0.22" fill="#3a3a3a" textLength="22.2" lengthAdjust="spacing">2006</text>
<text transform="translate(76.2,452.3) scale(1.2,1)" font-size="9.3" stroke="#3a3a3a" stroke-width="0.22" fill="#3a3a3a" textLength="11.2" lengthAdjust="spacing">08</text>
<text transform="translate(118.0,452.3) scale(1.2,1)" font-size="9.3" stroke="#3a3a3a" stroke-width="0.22" fill="#3a3a3a" textLength="11.2" lengthAdjust="spacing">10</text>
<text transform="translate(159.8,452.3) scale(1.2,1)" font-size="9.3" stroke="#3a3a3a" stroke-width="0.22" fill="#3a3a3a" textLength="11.2" lengthAdjust="spacing">12</text>
<text transform="translate(201.6,452.3) scale(1.2,1)" font-size="9.3" stroke="#3a3a3a" stroke-width="0.22" fill="#3a3a3a" textLength="11.2" lengthAdjust="spacing">14</text>
<polyline points="40.5,380.9 61.4,386.5 82.3,436.3 103.6,441.3 124.5,404.1 145.1,384.8 166.0,376.5 187.6,372.9 208.5,373.6 228.4,374.9" fill="none" stroke="#414141" stroke-width="1.85" stroke-linejoin="round"/>
<polyline points="40.5,380.9 61.4,386.5 82.3,427.0 103.6,410.4 124.5,384.2 145.1,382.5 166.0,382.5 187.6,382.5 208.5,382.5 228.4,382.5" fill="none" stroke="#151515" stroke-width="2.1" stroke-linejoin="round"/>
<text transform="translate(43.9,367.5) scale(1.12,1)" font-size="9.3" font-weight="bold" stroke="#111" stroke-width="0.35" fill="#111" textLength="70.5" lengthAdjust="spacing">Interest Rates</text>
<text transform="translate(43.9,378.9) scale(1.12,1)" font-size="9.3" font-weight="bold" stroke="#111" stroke-width="0.35" fill="#111" textLength="44.9" lengthAdjust="spacing">(percent)</text>
<line x1="276.2" y1="367.8" x2="278.8" y2="367.8" stroke="#8c8c8c" stroke-width="1"/>
<line x1="466.9" y1="367.8" x2="469.5" y2="367.8" stroke="#8c8c8c" stroke-width="1"/>
<line x1="276.2" y1="380.1" x2="278.2" y2="380.1" stroke="#c6c6c6" stroke-width="1"/>
<line x1="467.5" y1="380.1" x2="469.5" y2="380.1" stroke="#c6c6c6" stroke-width="1"/>
<line x1="276.2" y1="392.4" x2="278.8" y2="392.4" stroke="#8c8c8c" stroke-width="1"/>
<line x1="466.9" y1="392.4" x2="469.5" y2="392.4" stroke="#8c8c8c" stroke-width="1"/>
<line x1="276.2" y1="404.6" x2="278.2" y2="404.6" stroke="#c6c6c6" stroke-width="1"/>
<line x1="467.5" y1="404.6" x2="469.5" y2="404.6" stroke="#c6c6c6" stroke-width="1"/>
<line x1="276.2" y1="416.9" x2="278.8" y2="416.9" stroke="#8c8c8c" stroke-width="1"/>
<line x1="466.9" y1="416.9" x2="469.5" y2="416.9" stroke="#8c8c8c" stroke-width="1"/>
<line x1="276.2" y1="429.2" x2="278.2" y2="429.2" stroke="#c6c6c6" stroke-width="1"/>
<line x1="467.5" y1="429.2" x2="469.5" y2="429.2" stroke="#c6c6c6" stroke-width="1"/>
<line x1="276.2" y1="441.5" x2="278.8" y2="441.5" stroke="#8c8c8c" stroke-width="1"/>
<line x1="466.9" y1="441.5" x2="469.5" y2="441.5" stroke="#8c8c8c" stroke-width="1"/>
<text transform="translate(473.0,371.8) scale(1.22,1)" font-size="9.3" stroke="#3a3a3a" stroke-width="0.22" fill="#3a3a3a" textLength="5.3" lengthAdjust="spacing">6</text>
<text transform="translate(473.0,395.9) scale(1.22,1)" font-size="9.3" stroke="#3a3a3a" stroke-width="0.22" fill="#3a3a3a" textLength="5.3" lengthAdjust="spacing">4</text>
<text transform="translate(473.0,420.0) scale(1.22,1)" font-size="9.3" stroke="#3a3a3a" stroke-width="0.22" fill="#3a3a3a" textLength="5.3" lengthAdjust="spacing">2</text>
<text transform="translate(473.0,444.1) scale(1.22,1)" font-size="9.3" stroke="#3a3a3a" stroke-width="0.22" fill="#3a3a3a" textLength="5.3" lengthAdjust="spacing">0</text>
<line x1="276.2" y1="441.5" x2="469.5" y2="441.5" stroke="#646464" stroke-width="1"/>
<line x1="279.2" y1="439.7" x2="279.2" y2="441.5" stroke="#646464" stroke-width="0.9"/>
<line x1="300.1" y1="439.7" x2="300.1" y2="441.5" stroke="#646464" stroke-width="0.9"/>
<line x1="321.0" y1="439.7" x2="321.0" y2="441.5" stroke="#646464" stroke-width="0.9"/>
<line x1="342.0" y1="439.7" x2="342.0" y2="441.5" stroke="#646464" stroke-width="0.9"/>
<line x1="362.9" y1="439.7" x2="362.9" y2="441.5" stroke="#646464" stroke-width="0.9"/>
<line x1="383.8" y1="439.7" x2="383.8" y2="441.5" stroke="#646464" stroke-width="0.9"/>
<line x1="404.7" y1="439.7" x2="404.7" y2="441.5" stroke="#646464" stroke-width="0.9"/>
<line x1="425.7" y1="439.7" x2="425.7" y2="441.5" stroke="#646464" stroke-width="0.9"/>
<line x1="446.6" y1="439.7" x2="446.6" y2="441.5" stroke="#646464" stroke-width="0.9"/>
<line x1="467.5" y1="439.7" x2="467.5" y2="441.5" stroke="#646464" stroke-width="0.9"/>
<text transform="translate(266.9,452.3) scale(1.2,1)" font-size="9.3" stroke="#3a3a3a" stroke-width="0.22" fill="#3a3a3a" textLength="22.2" lengthAdjust="spacing">2006</text>
<text transform="translate(315.1,452.3) scale(1.2,1)" font-size="9.3" stroke="#3a3a3a" stroke-width="0.22" fill="#3a3a3a" textLength="11.2" lengthAdjust="spacing">08</text>
<text transform="translate(357.0,452.3) scale(1.2,1)" font-size="9.3" stroke="#3a3a3a" stroke-width="0.22" fill="#3a3a3a" textLength="11.2" lengthAdjust="spacing">10</text>
<text transform="translate(398.8,452.3) scale(1.2,1)" font-size="9.3" stroke="#3a3a3a" stroke-width="0.22" fill="#3a3a3a" textLength="11.2" lengthAdjust="spacing">12</text>
<text transform="translate(440.7,452.3) scale(1.2,1)" font-size="9.3" stroke="#3a3a3a" stroke-width="0.22" fill="#3a3a3a" textLength="11.2" lengthAdjust="spacing">14</text>
<polyline points="279.2,403.1 299.8,389.8 321.4,398.5 342.3,414.1 362.9,407.1 384.5,394.8 405.4,386.2 426.0,382.2 446.5,382.2 467.5,383.8" fill="none" stroke="#414141" stroke-width="1.85" stroke-linejoin="round"/>
<polyline points="279.2,403.1 299.8,389.8 321.4,391.8 342.3,394.1 362.9,392.1 384.5,390.8 405.4,390.8 426.0,390.8 446.5,390.8 467.5,390.8" fill="none" stroke="#151515" stroke-width="2.1" stroke-linejoin="round"/>
<text transform="translate(282.2,367.5) scale(1.12,1)" font-size="9.3" font-weight="bold" stroke="#111" stroke-width="0.35" fill="#111" textLength="70.5" lengthAdjust="spacing">Interest Rates</text>
<text transform="translate(282.2,378.9) scale(1.12,1)" font-size="9.3" font-weight="bold" stroke="#111" stroke-width="0.35" fill="#111" textLength="44.9" lengthAdjust="spacing">(percent)</text>
<line x1="524.5" y1="367.8" x2="527.1" y2="367.8" stroke="#8c8c8c" stroke-width="1"/>
<line x1="714.9" y1="367.8" x2="717.5" y2="367.8" stroke="#8c8c8c" stroke-width="1"/>
<line x1="524.5" y1="380.1" x2="526.5" y2="380.1" stroke="#c6c6c6" stroke-width="1"/>
<line x1="715.5" y1="380.1" x2="717.5" y2="380.1" stroke="#c6c6c6" stroke-width="1"/>
<line x1="524.5" y1="392.4" x2="527.1" y2="392.4" stroke="#8c8c8c" stroke-width="1"/>
<line x1="714.9" y1="392.4" x2="717.5" y2="392.4" stroke="#8c8c8c" stroke-width="1"/>
<line x1="524.5" y1="404.6" x2="526.5" y2="404.6" stroke="#c6c6c6" stroke-width="1"/>
<line x1="715.5" y1="404.6" x2="717.5" y2="404.6" stroke="#c6c6c6" stroke-width="1"/>
<line x1="524.5" y1="416.9" x2="527.1" y2="416.9" stroke="#8c8c8c" stroke-width="1"/>
<line x1="714.9" y1="416.9" x2="717.5" y2="416.9" stroke="#8c8c8c" stroke-width="1"/>
<line x1="524.5" y1="429.2" x2="526.5" y2="429.2" stroke="#c6c6c6" stroke-width="1"/>
<line x1="715.5" y1="429.2" x2="717.5" y2="429.2" stroke="#c6c6c6" stroke-width="1"/>
<line x1="524.5" y1="441.5" x2="527.1" y2="441.5" stroke="#8c8c8c" stroke-width="1"/>
<line x1="714.9" y1="441.5" x2="717.5" y2="441.5" stroke="#8c8c8c" stroke-width="1"/>
<text transform="translate(721.0,371.8) scale(1.22,1)" font-size="9.3" stroke="#3a3a3a" stroke-width="0.22" fill="#3a3a3a" textLength="5.3" lengthAdjust="spacing">2</text>
<text transform="translate(721.0,395.9) scale(1.22,1)" font-size="9.3" stroke="#3a3a3a" stroke-width="0.22" fill="#3a3a3a" textLength="5.3" lengthAdjust="spacing">0</text>
<text transform="translate(718.9,420.0) scale(1.22,1)" font-size="9.3" stroke="#3a3a3a" stroke-width="0.22" fill="#3a3a3a" textLength="9.5" lengthAdjust="spacing">-2</text>
<text transform="translate(718.9,444.1) scale(1.22,1)" font-size="9.3" stroke="#3a3a3a" stroke-width="0.22" fill="#3a3a3a" textLength="9.5" lengthAdjust="spacing">-4</text>
<line x1="524.5" y1="392.5" x2="717.5" y2="392.5" stroke="#646464" stroke-width="1"/>
<line x1="524.5" y1="441.5" x2="717.5" y2="441.5" stroke="#646464" stroke-width="1"/>
<line x1="535.0" y1="439.7" x2="535.0" y2="441.5" stroke="#646464" stroke-width="0.9"/>
<line x1="554.0" y1="439.7" x2="554.0" y2="441.5" stroke="#646464" stroke-width="0.9"/>
<line x1="573.0" y1="439.7" x2="573.0" y2="441.5" stroke="#646464" stroke-width="0.9"/>
<line x1="592.0" y1="439.7" x2="592.0" y2="441.5" stroke="#646464" stroke-width="0.9"/>
<line x1="611.0" y1="439.7" x2="611.0" y2="441.5" stroke="#646464" stroke-width="0.9"/>
<line x1="630.0" y1="439.7" x2="630.0" y2="441.5" stroke="#646464" stroke-width="0.9"/>
<line x1="649.0" y1="439.7" x2="649.0" y2="441.5" stroke="#646464" stroke-width="0.9"/>
<line x1="668.0" y1="439.7" x2="668.0" y2="441.5" stroke="#646464" stroke-width="0.9"/>
<line x1="687.0" y1="439.7" x2="687.0" y2="441.5" stroke="#646464" stroke-width="0.9"/>
<line x1="706.0" y1="439.7" x2="706.0" y2="441.5" stroke="#646464" stroke-width="0.9"/>
<text transform="translate(523.2,452.3) scale(1.2,1)" font-size="9.3" stroke="#3a3a3a" stroke-width="0.22" fill="#3a3a3a" textLength="22.5" lengthAdjust="spacing">2006</text>
<text transform="translate(566.8,452.3) scale(1.2,1)" font-size="9.3" stroke="#3a3a3a" stroke-width="0.22" fill="#3a3a3a" textLength="11.2" lengthAdjust="spacing">08</text>
<text transform="translate(604.8,452.3) scale(1.2,1)" font-size="9.3" stroke="#3a3a3a" stroke-width="0.22" fill="#3a3a3a" textLength="11.2" lengthAdjust="spacing">10</text>
<text transform="translate(642.8,452.3) scale(1.2,1)" font-size="9.3" stroke="#3a3a3a" stroke-width="0.22" fill="#3a3a3a" textLength="11.2" lengthAdjust="spacing">12</text>
<text transform="translate(680.8,452.3) scale(1.2,1)" font-size="9.3" stroke="#3a3a3a" stroke-width="0.22" fill="#3a3a3a" textLength="11.2" lengthAdjust="spacing">14</text>
<rect x="565.7" y="392.5" width="13.9" height="8.3" fill="#4d4d4d"/>
<rect x="584.7" y="392.5" width="14.3" height="20.2" fill="#4d4d4d"/>
<rect x="603.9" y="392.5" width="14.6" height="11.3" fill="#4d4d4d"/>
<rect x="642.1" y="385.8" width="13.9" height="6.7" fill="#4d4d4d"/>
<rect x="660.4" y="385.2" width="14.6" height="7.3" fill="#4d4d4d"/>
<rect x="679.3" y="387.5" width="14.3" height="5.0" fill="#4d4d4d"/>
<rect x="698.2" y="389.2" width="14.3" height="3.3" fill="#4d4d4d"/>
<text transform="translate(529.2,367.5) scale(1.12,1)" font-size="9.3" font-weight="bold" stroke="#111" stroke-width="0.35" fill="#111" textLength="70.5" lengthAdjust="spacing">Interest Rates</text>
<text transform="translate(529.2,378.9) scale(1.12,1)" font-size="9.3" font-weight="bold" stroke="#111" stroke-width="0.35" fill="#111" textLength="97.8" lengthAdjust="spacing">(percentage points)</text>
<line x1="38.2" y1="482.0" x2="40.8" y2="482.0" stroke="#8c8c8c" stroke-width="1"/>
<line x1="228.8" y1="482.0" x2="231.4" y2="482.0" stroke="#8c8c8c" stroke-width="1"/>
<line x1="38.2" y1="491.3" x2="40.2" y2="491.3" stroke="#c6c6c6" stroke-width="1"/>
<line x1="229.4" y1="491.3" x2="231.4" y2="491.3" stroke="#c6c6c6" stroke-width="1"/>
<line x1="38.2" y1="500.6" x2="40.8" y2="500.6" stroke="#8c8c8c" stroke-width="1"/>
<line x1="228.8" y1="500.6" x2="231.4" y2="500.6" stroke="#8c8c8c" stroke-width="1"/>
<line x1="38.2" y1="509.9" x2="40.2" y2="509.9" stroke="#c6c6c6" stroke-width="1"/>
<line x1="229.4" y1="509.9" x2="231.4" y2="509.9" stroke="#c6c6c6" stroke-width="1"/>
<line x1="38.2" y1="519.2" x2="40.8" y2="519.2" stroke="#8c8c8c" stroke-width="1"/>
<line x1="228.8" y1="519.2" x2="231.4" y2="519.2" stroke="#8c8c8c" stroke-width="1"/>
<line x1="38.2" y1="528.6" x2="40.2" y2="528.6" stroke="#c6c6c6" stroke-width="1"/>
<line x1="229.4" y1="528.6" x2="231.4" y2="528.6" stroke="#c6c6c6" stroke-width="1"/>
<line x1="38.2" y1="537.9" x2="40.8" y2="537.9" stroke="#8c8c8c" stroke-width="1"/>
<line x1="228.8" y1="537.9" x2="231.4" y2="537.9" stroke="#8c8c8c" stroke-width="1"/>
<line x1="38.2" y1="547.2" x2="40.2" y2="547.2" stroke="#c6c6c6" stroke-width="1"/>
<line x1="229.4" y1="547.2" x2="231.4" y2="547.2" stroke="#c6c6c6" stroke-width="1"/>
<line x1="38.2" y1="556.5" x2="40.8" y2="556.5" stroke="#8c8c8c" stroke-width="1"/>
<line x1="228.8" y1="556.5" x2="231.4" y2="556.5" stroke="#8c8c8c" stroke-width="1"/>
<text transform="translate(28.0,486.5) scale(1.22,1)" font-size="9.3" stroke="#3a3a3a" stroke-width="0.22" fill="#3a3a3a" textLength="5.3" lengthAdjust="spacing">6</text>
<text transform="translate(28.0,504.4) scale(1.22,1)" font-size="9.3" stroke="#3a3a3a" stroke-width="0.22" fill="#3a3a3a" textLength="5.3" lengthAdjust="spacing">5</text>
<text transform="translate(28.0,522.3) scale(1.22,1)" font-size="9.3" stroke="#3a3a3a" stroke-width="0.22" fill="#3a3a3a" textLength="5.3" lengthAdjust="spacing">4</text>
<text transform="translate(28.0,540.3) scale(1.22,1)" font-size="9.3" stroke="#3a3a3a" stroke-width="0.22" fill="#3a3a3a" textLength="5.3" lengthAdjust="spacing">3</text>
<text transform="translate(28.0,558.2) scale(1.22,1)" font-size="9.3" stroke="#3a3a3a" stroke-width="0.22" fill="#3a3a3a" textLength="5.3" lengthAdjust="spacing">2</text>
<line x1="38.2" y1="556.5" x2="231.4" y2="556.5" stroke="#646464" stroke-width="1"/>
<line x1="40.3" y1="554.7" x2="40.3" y2="556.5" stroke="#646464" stroke-width="0.9"/>
<line x1="61.2" y1="554.7" x2="61.2" y2="556.5" stroke="#646464" stroke-width="0.9"/>
<line x1="82.1" y1="554.7" x2="82.1" y2="556.5" stroke="#646464" stroke-width="0.9"/>
<line x1="103.0" y1="554.7" x2="103.0" y2="556.5" stroke="#646464" stroke-width="0.9"/>
<line x1="123.9" y1="554.7" x2="123.9" y2="556.5" stroke="#646464" stroke-width="0.9"/>
<line x1="144.8" y1="554.7" x2="144.8" y2="556.5" stroke="#646464" stroke-width="0.9"/>
<line x1="165.7" y1="554.7" x2="165.7" y2="556.5" stroke="#646464" stroke-width="0.9"/>
<line x1="186.6" y1="554.7" x2="186.6" y2="556.5" stroke="#646464" stroke-width="0.9"/>
<line x1="207.5" y1="554.7" x2="207.5" y2="556.5" stroke="#646464" stroke-width="0.9"/>
<line x1="228.4" y1="554.7" x2="228.4" y2="556.5" stroke="#646464" stroke-width="0.9"/>
<text transform="translate(28.0,567.3) scale(1.2,1)" font-size="9.3" stroke="#3a3a3a" stroke-width="0.22" fill="#3a3a3a" textLength="22.2" lengthAdjust="spacing">2006</text>
<text transform="translate(76.2,567.3) scale(1.2,1)" font-size="9.3" stroke="#3a3a3a" stroke-width="0.22" fill="#3a3a3a" textLength="11.2" lengthAdjust="spacing">08</text>
<text transform="translate(118.0,567.3) scale(1.2,1)" font-size="9.3" stroke="#3a3a3a" stroke-width="0.22" fill="#3a3a3a" textLength="11.2" lengthAdjust="spacing">10</text>
<text transform="translate(159.8,567.3) scale(1.2,1)" font-size="9.3" stroke="#3a3a3a" stroke-width="0.22" fill="#3a3a3a" textLength="11.2" lengthAdjust="spacing">12</text>
<text transform="translate(201.6,567.3) scale(1.2,1)" font-size="9.3" stroke="#3a3a3a" stroke-width="0.22" fill="#3a3a3a" textLength="11.2" lengthAdjust="spacing">14</text>
<polyline points="40.5,544.6 61.4,547.3 82.3,502.5 103.6,493.2 124.5,498.8 145.1,504.1 166.0,512.4 187.6,512.1" fill="none" stroke="#414141" stroke-width="1.85" stroke-linejoin="round"/>
<polyline points="40.5,544.6 61.4,547.3 82.3,510.1 103.6,515.8 124.5,527.0 145.1,532.4 166.0,542.3 187.6,540.7" fill="none" stroke="#151515" stroke-width="2.1" stroke-linejoin="round"/>
<text transform="translate(43.9,479.1) scale(1.12,1)" font-size="9.3" font-weight="bold" stroke="#111" stroke-width="0.35" fill="#111" textLength="96.9" lengthAdjust="spacing">Government Deficit</text>
<text transform="translate(43.9,490.8) scale(1.12,1)" font-size="9.3" font-weight="bold" stroke="#111" stroke-width="0.35" fill="#111" textLength="83.0" lengthAdjust="spacing">(percent of GDP)</text>
<line x1="276.2" y1="482.0" x2="278.8" y2="482.0" stroke="#8c8c8c" stroke-width="1"/>
<line x1="466.9" y1="482.0" x2="469.5" y2="482.0" stroke="#8c8c8c" stroke-width="1"/>
<line x1="276.2" y1="491.3" x2="278.2" y2="491.3" stroke="#c6c6c6" stroke-width="1"/>
<line x1="467.5" y1="491.3" x2="469.5" y2="491.3" stroke="#c6c6c6" stroke-width="1"/>
<line x1="276.2" y1="500.6" x2="278.8" y2="500.6" stroke="#8c8c8c" stroke-width="1"/>
<line x1="466.9" y1="500.6" x2="469.5" y2="500.6" stroke="#8c8c8c" stroke-width="1"/>
<line x1="276.2" y1="509.9" x2="278.2" y2="509.9" stroke="#c6c6c6" stroke-width="1"/>
<line x1="467.5" y1="509.9" x2="469.5" y2="509.9" stroke="#c6c6c6" stroke-width="1"/>
<line x1="276.2" y1="519.2" x2="278.8" y2="519.2" stroke="#8c8c8c" stroke-width="1"/>
<line x1="466.9" y1="519.2" x2="469.5" y2="519.2" stroke="#8c8c8c" stroke-width="1"/>
<line x1="276.2" y1="528.6" x2="278.2" y2="528.6" stroke="#c6c6c6" stroke-width="1"/>
<line x1="467.5" y1="528.6" x2="469.5" y2="528.6" stroke="#c6c6c6" stroke-width="1"/>
<line x1="276.2" y1="537.9" x2="278.8" y2="537.9" stroke="#8c8c8c" stroke-width="1"/>
<line x1="466.9" y1="537.9" x2="469.5" y2="537.9" stroke="#8c8c8c" stroke-width="1"/>
<line x1="276.2" y1="547.2" x2="278.2" y2="547.2" stroke="#c6c6c6" stroke-width="1"/>
<line x1="467.5" y1="547.2" x2="469.5" y2="547.2" stroke="#c6c6c6" stroke-width="1"/>
<line x1="276.2" y1="556.5" x2="278.8" y2="556.5" stroke="#8c8c8c" stroke-width="1"/>
<line x1="466.9" y1="556.5" x2="469.5" y2="556.5" stroke="#8c8c8c" stroke-width="1"/>
<text transform="translate(473.0,486.0) scale(1.22,1)" font-size="9.3" stroke="#3a3a3a" stroke-width="0.22" fill="#3a3a3a" textLength="5.3" lengthAdjust="spacing">4</text>
<text transform="translate(473.0,504.3) scale(1.22,1)" font-size="9.3" stroke="#3a3a3a" stroke-width="0.22" fill="#3a3a3a" textLength="5.3" lengthAdjust="spacing">3</text>
<text transform="translate(473.0,522.5) scale(1.22,1)" font-size="9.3" stroke="#3a3a3a" stroke-width="0.22" fill="#3a3a3a" textLength="5.3" lengthAdjust="spacing">2</text>
<text transform="translate(473.0,540.8) scale(1.22,1)" font-size="9.3" stroke="#3a3a3a" stroke-width="0.22" fill="#3a3a3a" textLength="5.3" lengthAdjust="spacing">1</text>
<text transform="translate(473.0,559.1) scale(1.22,1)" font-size="9.3" stroke="#3a3a3a" stroke-width="0.22" fill="#3a3a3a" textLength="5.3" lengthAdjust="spacing">0</text>
<line x1="276.2" y1="556.5" x2="469.5" y2="556.5" stroke="#646464" stroke-width="1"/>
<line x1="279.2" y1="554.7" x2="279.2" y2="556.5" stroke="#646464" stroke-width="0.9"/>
<line x1="300.1" y1="554.7" x2="300.1" y2="556.5" stroke="#646464" stroke-width="0.9"/>
<line x1="321.0" y1="554.7" x2="321.0" y2="556.5" stroke="#646464" stroke-width="0.9"/>
<line x1="342.0" y1="554.7" x2="342.0" y2="556.5" stroke="#646464" stroke-width="0.9"/>
<line x1="362.9" y1="554.7" x2="362.9" y2="556.5" stroke="#646464" stroke-width="0.9"/>
<line x1="383.8" y1="554.7" x2="383.8" y2="556.5" stroke="#646464" stroke-width="0.9"/>
<line x1="404.7" y1="554.7" x2="404.7" y2="556.5" stroke="#646464" stroke-width="0.9"/>
<line x1="425.7" y1="554.7" x2="425.7" y2="556.5" stroke="#646464" stroke-width="0.9"/>
<line x1="446.6" y1="554.7" x2="446.6" y2="556.5" stroke="#646464" stroke-width="0.9"/>
<line x1="467.5" y1="554.7" x2="467.5" y2="556.5" stroke="#646464" stroke-width="0.9"/>
<text transform="translate(266.9,567.3) scale(1.2,1)" font-size="9.3" stroke="#3a3a3a" stroke-width="0.22" fill="#3a3a3a" textLength="22.2" lengthAdjust="spacing">2006</text>
<text transform="translate(315.1,567.3) scale(1.2,1)" font-size="9.3" stroke="#3a3a3a" stroke-width="0.22" fill="#3a3a3a" textLength="11.2" lengthAdjust="spacing">08</text>
<text transform="translate(357.0,567.3) scale(1.2,1)" font-size="9.3" stroke="#3a3a3a" stroke-width="0.22" fill="#3a3a3a" textLength="11.2" lengthAdjust="spacing">10</text>
<text transform="translate(398.8,567.3) scale(1.2,1)" font-size="9.3" stroke="#3a3a3a" stroke-width="0.22" fill="#3a3a3a" textLength="11.2" lengthAdjust="spacing">12</text>
<text transform="translate(440.7,567.3) scale(1.2,1)" font-size="9.3" stroke="#3a3a3a" stroke-width="0.22" fill="#3a3a3a" textLength="11.2" lengthAdjust="spacing">14</text>
<polyline points="279.2,530.4 299.8,545.3 321.4,523.7 342.3,505.8 362.9,504.1 384.5,510.8 405.4,514.1 426.0,517.1" fill="none" stroke="#414141" stroke-width="1.85" stroke-linejoin="round"/>
<polyline points="279.2,530.4 299.8,545.3 321.4,533.7 342.3,534.0 362.9,537.0 384.5,542.0 405.4,546.0 426.0,548.6" fill="none" stroke="#151515" stroke-width="2.1" stroke-linejoin="round"/>
<text transform="translate(282.2,479.1) scale(1.12,1)" font-size="9.3" font-weight="bold" stroke="#111" stroke-width="0.35" fill="#111" textLength="96.9" lengthAdjust="spacing">Government Deficit</text>
<text transform="translate(282.2,490.8) scale(1.12,1)" font-size="9.3" font-weight="bold" stroke="#111" stroke-width="0.35" fill="#111" textLength="83.0" lengthAdjust="spacing">(percent of GDP)</text>
<line x1="524.5" y1="482.0" x2="527.1" y2="482.0" stroke="#8c8c8c" stroke-width="1"/>
<line x1="714.9" y1="482.0" x2="717.5" y2="482.0" stroke="#8c8c8c" stroke-width="1"/>
<line x1="524.5" y1="491.3" x2="526.5" y2="491.3" stroke="#c6c6c6" stroke-width="1"/>
<line x1="715.5" y1="491.3" x2="717.5" y2="491.3" stroke="#c6c6c6" stroke-width="1"/>
<line x1="524.5" y1="500.6" x2="527.1" y2="500.6" stroke="#8c8c8c" stroke-width="1"/>
<line x1="714.9" y1="500.6" x2="717.5" y2="500.6" stroke="#8c8c8c" stroke-width="1"/>
<line x1="524.5" y1="509.9" x2="526.5" y2="509.9" stroke="#c6c6c6" stroke-width="1"/>
<line x1="715.5" y1="509.9" x2="717.5" y2="509.9" stroke="#c6c6c6" stroke-width="1"/>
<line x1="524.5" y1="519.2" x2="527.1" y2="519.2" stroke="#8c8c8c" stroke-width="1"/>
<line x1="714.9" y1="519.2" x2="717.5" y2="519.2" stroke="#8c8c8c" stroke-width="1"/>
<line x1="524.5" y1="528.6" x2="526.5" y2="528.6" stroke="#c6c6c6" stroke-width="1"/>
<line x1="715.5" y1="528.6" x2="717.5" y2="528.6" stroke="#c6c6c6" stroke-width="1"/>
<line x1="524.5" y1="537.9" x2="527.1" y2="537.9" stroke="#8c8c8c" stroke-width="1"/>
<line x1="714.9" y1="537.9" x2="717.5" y2="537.9" stroke="#8c8c8c" stroke-width="1"/>
<line x1="524.5" y1="547.2" x2="526.5" y2="547.2" stroke="#c6c6c6" stroke-width="1"/>
<line x1="715.5" y1="547.2" x2="717.5" y2="547.2" stroke="#c6c6c6" stroke-width="1"/>
<line x1="524.5" y1="556.5" x2="527.1" y2="556.5" stroke="#8c8c8c" stroke-width="1"/>
<line x1="714.9" y1="556.5" x2="717.5" y2="556.5" stroke="#8c8c8c" stroke-width="1"/>
<text transform="translate(721.0,486.0) scale(1.22,1)" font-size="9.3" stroke="#3a3a3a" stroke-width="0.22" fill="#3a3a3a" textLength="5.3" lengthAdjust="spacing">4</text>
<text transform="translate(721.0,504.3) scale(1.22,1)" font-size="9.3" stroke="#3a3a3a" stroke-width="0.22" fill="#3a3a3a" textLength="5.3" lengthAdjust="spacing">3</text>
<text transform="translate(721.0,522.5) scale(1.22,1)" font-size="9.3" stroke="#3a3a3a" stroke-width="0.22" fill="#3a3a3a" textLength="5.3" lengthAdjust="spacing">2</text>
<text transform="translate(721.0,540.8) scale(1.22,1)" font-size="9.3" stroke="#3a3a3a" stroke-width="0.22" fill="#3a3a3a" textLength="5.3" lengthAdjust="spacing">1</text>
<text transform="translate(721.0,559.1) scale(1.22,1)" font-size="9.3" stroke="#3a3a3a" stroke-width="0.22" fill="#3a3a3a" textLength="5.3" lengthAdjust="spacing">0</text>
<line x1="524.5" y1="556.5" x2="717.5" y2="556.5" stroke="#646464" stroke-width="1"/>
<line x1="535.0" y1="554.7" x2="535.0" y2="556.5" stroke="#646464" stroke-width="0.9"/>
<line x1="554.0" y1="554.7" x2="554.0" y2="556.5" stroke="#646464" stroke-width="0.9"/>
<line x1="573.0" y1="554.7" x2="573.0" y2="556.5" stroke="#646464" stroke-width="0.9"/>
<line x1="592.0" y1="554.7" x2="592.0" y2="556.5" stroke="#646464" stroke-width="0.9"/>
<line x1="611.0" y1="554.7" x2="611.0" y2="556.5" stroke="#646464" stroke-width="0.9"/>
<line x1="630.0" y1="554.7" x2="630.0" y2="556.5" stroke="#646464" stroke-width="0.9"/>
<line x1="649.0" y1="554.7" x2="649.0" y2="556.5" stroke="#646464" stroke-width="0.9"/>
<line x1="668.0" y1="554.7" x2="668.0" y2="556.5" stroke="#646464" stroke-width="0.9"/>
<line x1="687.0" y1="554.7" x2="687.0" y2="556.5" stroke="#646464" stroke-width="0.9"/>
<line x1="706.0" y1="554.7" x2="706.0" y2="556.5" stroke="#646464" stroke-width="0.9"/>
<text transform="translate(523.2,567.3) scale(1.2,1)" font-size="9.3" stroke="#3a3a3a" stroke-width="0.22" fill="#3a3a3a" textLength="22.5" lengthAdjust="spacing">2006</text>
<text transform="translate(566.8,567.3) scale(1.2,1)" font-size="9.3" stroke="#3a3a3a" stroke-width="0.22" fill="#3a3a3a" textLength="11.2" lengthAdjust="spacing">08</text>
<text transform="translate(604.8,567.3) scale(1.2,1)" font-size="9.3" stroke="#3a3a3a" stroke-width="0.22" fill="#3a3a3a" textLength="11.2" lengthAdjust="spacing">10</text>
<text transform="translate(642.8,567.3) scale(1.2,1)" font-size="9.3" stroke="#3a3a3a" stroke-width="0.22" fill="#3a3a3a" textLength="11.2" lengthAdjust="spacing">12</text>
<text transform="translate(680.8,567.3) scale(1.2,1)" font-size="9.3" stroke="#3a3a3a" stroke-width="0.22" fill="#3a3a3a" textLength="11.2" lengthAdjust="spacing">14</text>
<rect x="565.7" y="551.6" width="14.6" height="4.9" fill="#4d4d4d"/>
<rect x="584.7" y="545.0" width="14.3" height="11.5" fill="#4d4d4d"/>
<rect x="603.9" y="544.3" width="14.6" height="12.2" fill="#4d4d4d"/>
<rect x="622.8" y="545.6" width="14.3" height="10.9" fill="#4d4d4d"/>
<rect x="641.1" y="545.6" width="14.9" height="10.9" fill="#4d4d4d"/>
<rect x="660.4" y="545.0" width="14.6" height="11.5" fill="#4d4d4d"/>
<text transform="translate(529.2,479.1) scale(1.12,1)" font-size="9.3" font-weight="bold" stroke="#111" stroke-width="0.35" fill="#111" textLength="96.9" lengthAdjust="spacing">Government Deficit</text>
<text transform="translate(529.2,490.8) scale(1.12,1)" font-size="9.3" font-weight="bold" stroke="#111" stroke-width="0.35" fill="#111" textLength="97.8" lengthAdjust="spacing">(percentage points)</text>
<line x1="38.2" y1="598.3" x2="40.8" y2="598.3" stroke="#8c8c8c" stroke-width="1"/>
<line x1="228.8" y1="598.3" x2="231.4" y2="598.3" stroke="#8c8c8c" stroke-width="1"/>
<line x1="38.2" y1="607.6" x2="40.2" y2="607.6" stroke="#c6c6c6" stroke-width="1"/>
<line x1="229.4" y1="607.6" x2="231.4" y2="607.6" stroke="#c6c6c6" stroke-width="1"/>
<line x1="38.2" y1="616.8" x2="40.8" y2="616.8" stroke="#8c8c8c" stroke-width="1"/>
<line x1="228.8" y1="616.8" x2="231.4" y2="616.8" stroke="#8c8c8c" stroke-width="1"/>
<line x1="38.2" y1="626.1" x2="40.2" y2="626.1" stroke="#c6c6c6" stroke-width="1"/>
<line x1="229.4" y1="626.1" x2="231.4" y2="626.1" stroke="#c6c6c6" stroke-width="1"/>
<line x1="38.2" y1="635.4" x2="40.8" y2="635.4" stroke="#8c8c8c" stroke-width="1"/>
<line x1="228.8" y1="635.4" x2="231.4" y2="635.4" stroke="#8c8c8c" stroke-width="1"/>
<line x1="38.2" y1="644.7" x2="40.2" y2="644.7" stroke="#c6c6c6" stroke-width="1"/>
<line x1="229.4" y1="644.7" x2="231.4" y2="644.7" stroke="#c6c6c6" stroke-width="1"/>
<line x1="38.2" y1="654.0" x2="40.8" y2="654.0" stroke="#8c8c8c" stroke-width="1"/>
<line x1="228.8" y1="654.0" x2="231.4" y2="654.0" stroke="#8c8c8c" stroke-width="1"/>
<line x1="38.2" y1="663.2" x2="40.2" y2="663.2" stroke="#c6c6c6" stroke-width="1"/>
<line x1="229.4" y1="663.2" x2="231.4" y2="663.2" stroke="#c6c6c6" stroke-width="1"/>
<line x1="38.2" y1="672.5" x2="40.8" y2="672.5" stroke="#8c8c8c" stroke-width="1"/>
<line x1="228.8" y1="672.5" x2="231.4" y2="672.5" stroke="#8c8c8c" stroke-width="1"/>
<text transform="translate(24.7,602.8) scale(1.22,1)" font-size="9.3" stroke="#3a3a3a" stroke-width="0.22" fill="#3a3a3a" textLength="8.9" lengthAdjust="spacing">-3</text>
<text transform="translate(24.7,620.6) scale(1.22,1)" font-size="9.3" stroke="#3a3a3a" stroke-width="0.22" fill="#3a3a3a" textLength="8.9" lengthAdjust="spacing">-4</text>
<text transform="translate(24.7,638.5) scale(1.22,1)" font-size="9.3" stroke="#3a3a3a" stroke-width="0.22" fill="#3a3a3a" textLength="8.9" lengthAdjust="spacing">-5</text>
<text transform="translate(24.7,656.3) scale(1.22,1)" font-size="9.3" stroke="#3a3a3a" stroke-width="0.22" fill="#3a3a3a" textLength="8.9" lengthAdjust="spacing">-6</text>
<text transform="translate(24.7,674.2) scale(1.22,1)" font-size="9.3" stroke="#3a3a3a" stroke-width="0.22" fill="#3a3a3a" textLength="8.9" lengthAdjust="spacing">-7</text>
<line x1="38.2" y1="672.5" x2="231.4" y2="672.5" stroke="#646464" stroke-width="1"/>
<line x1="40.3" y1="670.7" x2="40.3" y2="672.5" stroke="#646464" stroke-width="0.9"/>
<line x1="61.2" y1="670.7" x2="61.2" y2="672.5" stroke="#646464" stroke-width="0.9"/>
<line x1="82.1" y1="670.7" x2="82.1" y2="672.5" stroke="#646464" stroke-width="0.9"/>
<line x1="103.0" y1="670.7" x2="103.0" y2="672.5" stroke="#646464" stroke-width="0.9"/>
<line x1="123.9" y1="670.7" x2="123.9" y2="672.5" stroke="#646464" stroke-width="0.9"/>
<line x1="144.8" y1="670.7" x2="144.8" y2="672.5" stroke="#646464" stroke-width="0.9"/>
<line x1="165.7" y1="670.7" x2="165.7" y2="672.5" stroke="#646464" stroke-width="0.9"/>
<line x1="186.6" y1="670.7" x2="186.6" y2="672.5" stroke="#646464" stroke-width="0.9"/>
<line x1="207.5" y1="670.7" x2="207.5" y2="672.5" stroke="#646464" stroke-width="0.9"/>
<line x1="228.4" y1="670.7" x2="228.4" y2="672.5" stroke="#646464" stroke-width="0.9"/>
<text transform="translate(28.0,683.3) scale(1.2,1)" font-size="9.3" stroke="#3a3a3a" stroke-width="0.22" fill="#3a3a3a" textLength="22.2" lengthAdjust="spacing">2006</text>
<text transform="translate(76.2,683.3) scale(1.2,1)" font-size="9.3" stroke="#3a3a3a" stroke-width="0.22" fill="#3a3a3a" textLength="11.2" lengthAdjust="spacing">08</text>
<text transform="translate(118.0,683.3) scale(1.2,1)" font-size="9.3" stroke="#3a3a3a" stroke-width="0.22" fill="#3a3a3a" textLength="11.2" lengthAdjust="spacing">10</text>
<text transform="translate(159.8,683.3) scale(1.2,1)" font-size="9.3" stroke="#3a3a3a" stroke-width="0.22" fill="#3a3a3a" textLength="11.2" lengthAdjust="spacing">12</text>
<text transform="translate(201.6,683.3) scale(1.2,1)" font-size="9.3" stroke="#3a3a3a" stroke-width="0.22" fill="#3a3a3a" textLength="11.2" lengthAdjust="spacing">14</text>
<polyline points="40.5,657.0 61.4,640.7 82.3,616.5 103.6,613.8 124.5,610.8 145.1,608.8 166.0,608.2 187.6,606.2" fill="none" stroke="#414141" stroke-width="1.85" stroke-linejoin="round"/>
<polyline points="40.5,657.0 61.4,641.4 82.3,622.5 103.6,619.8 124.5,617.5 145.1,615.8 166.0,614.8 187.6,612.2" fill="none" stroke="#151515" stroke-width="2.1" stroke-linejoin="round"/>
<text transform="translate(43.9,594.0) scale(1.12,1)" font-size="9.3" font-weight="bold" stroke="#111" stroke-width="0.35" fill="#111" textLength="123.2" lengthAdjust="spacing">Current Account Balance</text>
<text transform="translate(43.9,606.1) scale(1.12,1)" font-size="9.3" font-weight="bold" stroke="#111" stroke-width="0.35" fill="#111" textLength="83.0" lengthAdjust="spacing">(percent of GDP)</text>
<line x1="276.2" y1="598.3" x2="278.8" y2="598.3" stroke="#8c8c8c" stroke-width="1"/>
<line x1="466.9" y1="598.3" x2="469.5" y2="598.3" stroke="#8c8c8c" stroke-width="1"/>
<line x1="276.2" y1="607.6" x2="278.2" y2="607.6" stroke="#c6c6c6" stroke-width="1"/>
<line x1="467.5" y1="607.6" x2="469.5" y2="607.6" stroke="#c6c6c6" stroke-width="1"/>
<line x1="276.2" y1="616.8" x2="278.8" y2="616.8" stroke="#8c8c8c" stroke-width="1"/>
<line x1="466.9" y1="616.8" x2="469.5" y2="616.8" stroke="#8c8c8c" stroke-width="1"/>
<line x1="276.2" y1="626.1" x2="278.2" y2="626.1" stroke="#c6c6c6" stroke-width="1"/>
<line x1="467.5" y1="626.1" x2="469.5" y2="626.1" stroke="#c6c6c6" stroke-width="1"/>
<line x1="276.2" y1="635.4" x2="278.8" y2="635.4" stroke="#8c8c8c" stroke-width="1"/>
<line x1="466.9" y1="635.4" x2="469.5" y2="635.4" stroke="#8c8c8c" stroke-width="1"/>
<line x1="276.2" y1="644.7" x2="278.2" y2="644.7" stroke="#c6c6c6" stroke-width="1"/>
<line x1="467.5" y1="644.7" x2="469.5" y2="644.7" stroke="#c6c6c6" stroke-width="1"/>
<line x1="276.2" y1="654.0" x2="278.8" y2="654.0" stroke="#8c8c8c" stroke-width="1"/>
<line x1="466.9" y1="654.0" x2="469.5" y2="654.0" stroke="#8c8c8c" stroke-width="1"/>
<line x1="276.2" y1="663.2" x2="278.2" y2="663.2" stroke="#c6c6c6" stroke-width="1"/>
<line x1="467.5" y1="663.2" x2="469.5" y2="663.2" stroke="#c6c6c6" stroke-width="1"/>
<line x1="276.2" y1="672.5" x2="278.8" y2="672.5" stroke="#8c8c8c" stroke-width="1"/>
<line x1="466.9" y1="672.5" x2="469.5" y2="672.5" stroke="#8c8c8c" stroke-width="1"/>
<text transform="translate(473.0,602.3) scale(1.22,1)" font-size="9.3" stroke="#3a3a3a" stroke-width="0.22" fill="#3a3a3a" textLength="5.3" lengthAdjust="spacing">1</text>
<text transform="translate(473.0,620.5) scale(1.22,1)" font-size="9.3" stroke="#3a3a3a" stroke-width="0.22" fill="#3a3a3a" textLength="5.3" lengthAdjust="spacing">0</text>
<text transform="translate(470.9,638.7) scale(1.22,1)" font-size="9.3" stroke="#3a3a3a" stroke-width="0.22" fill="#3a3a3a" textLength="9.5" lengthAdjust="spacing">-1</text>
<text transform="translate(470.9,656.9) scale(1.22,1)" font-size="9.3" stroke="#3a3a3a" stroke-width="0.22" fill="#3a3a3a" textLength="9.5" lengthAdjust="spacing">-2</text>
<text transform="translate(470.9,675.1) scale(1.22,1)" font-size="9.3" stroke="#3a3a3a" stroke-width="0.22" fill="#3a3a3a" textLength="9.5" lengthAdjust="spacing">-3</text>
<line x1="276.2" y1="616.5" x2="469.5" y2="616.5" stroke="#646464" stroke-width="1"/>
<line x1="276.2" y1="672.5" x2="469.5" y2="672.5" stroke="#646464" stroke-width="1"/>
<line x1="279.2" y1="670.7" x2="279.2" y2="672.5" stroke="#646464" stroke-width="0.9"/>
<line x1="300.1" y1="670.7" x2="300.1" y2="672.5" stroke="#646464" stroke-width="0.9"/>
<line x1="321.0" y1="670.7" x2="321.0" y2="672.5" stroke="#646464" stroke-width="0.9"/>
<line x1="342.0" y1="670.7" x2="342.0" y2="672.5" stroke="#646464" stroke-width="0.9"/>
<line x1="362.9" y1="670.7" x2="362.9" y2="672.5" stroke="#646464" stroke-width="0.9"/>
<line x1="383.8" y1="670.7" x2="383.8" y2="672.5" stroke="#646464" stroke-width="0.9"/>
<line x1="404.7" y1="670.7" x2="404.7" y2="672.5" stroke="#646464" stroke-width="0.9"/>
<line x1="425.7" y1="670.7" x2="425.7" y2="672.5" stroke="#646464" stroke-width="0.9"/>
<line x1="446.6" y1="670.7" x2="446.6" y2="672.5" stroke="#646464" stroke-width="0.9"/>
<line x1="467.5" y1="670.7" x2="467.5" y2="672.5" stroke="#646464" stroke-width="0.9"/>
<text transform="translate(266.9,683.3) scale(1.2,1)" font-size="9.3" stroke="#3a3a3a" stroke-width="0.22" fill="#3a3a3a" textLength="22.2" lengthAdjust="spacing">2006</text>
<text transform="translate(315.1,683.3) scale(1.2,1)" font-size="9.3" stroke="#3a3a3a" stroke-width="0.22" fill="#3a3a3a" textLength="11.2" lengthAdjust="spacing">08</text>
<text transform="translate(357.0,683.3) scale(1.2,1)" font-size="9.3" stroke="#3a3a3a" stroke-width="0.22" fill="#3a3a3a" textLength="11.2" lengthAdjust="spacing">10</text>
<text transform="translate(398.8,683.3) scale(1.2,1)" font-size="9.3" stroke="#3a3a3a" stroke-width="0.22" fill="#3a3a3a" textLength="11.2" lengthAdjust="spacing">12</text>
<text transform="translate(440.7,683.3) scale(1.2,1)" font-size="9.3" stroke="#3a3a3a" stroke-width="0.22" fill="#3a3a3a" textLength="11.2" lengthAdjust="spacing">14</text>
<polyline points="279.2,619.8 299.8,614.2 321.4,628.1 342.3,632.4 362.9,633.4 384.5,634.4 405.4,635.7 426.0,637.4" fill="none" stroke="#414141" stroke-width="1.85" stroke-linejoin="round"/>
<polyline points="279.2,619.8 299.8,614.2 321.4,627.1 342.3,632.1 362.9,633.1 384.5,634.1 405.4,635.1 426.0,635.7" fill="none" stroke="#151515" stroke-width="2.1" stroke-linejoin="round"/>
<text transform="translate(282.2,594.0) scale(1.12,1)" font-size="9.3" font-weight="bold" stroke="#111" stroke-width="0.35" fill="#111" textLength="123.2" lengthAdjust="spacing">Current Account Balance</text>
<text transform="translate(282.2,606.1) scale(1.12,1)" font-size="9.3" font-weight="bold" stroke="#111" stroke-width="0.35" fill="#111" textLength="83.0" lengthAdjust="spacing">(percent of GDP)</text>
<line x1="524.5" y1="598.3" x2="527.1" y2="598.3" stroke="#8c8c8c" stroke-width="1"/>
<line x1="714.9" y1="598.3" x2="717.5" y2="598.3" stroke="#8c8c8c" stroke-width="1"/>
<line x1="524.5" y1="607.6" x2="526.5" y2="607.6" stroke="#c6c6c6" stroke-width="1"/>
<line x1="715.5" y1="607.6" x2="717.5" y2="607.6" stroke="#c6c6c6" stroke-width="1"/>
<line x1="524.5" y1="616.8" x2="527.1" y2="616.8" stroke="#8c8c8c" stroke-width="1"/>
<line x1="714.9" y1="616.8" x2="717.5" y2="616.8" stroke="#8c8c8c" stroke-width="1"/>
<line x1="524.5" y1="626.1" x2="526.5" y2="626.1" stroke="#c6c6c6" stroke-width="1"/>
<line x1="715.5" y1="626.1" x2="717.5" y2="626.1" stroke="#c6c6c6" stroke-width="1"/>
<line x1="524.5" y1="635.4" x2="527.1" y2="635.4" stroke="#8c8c8c" stroke-width="1"/>
<line x1="714.9" y1="635.4" x2="717.5" y2="635.4" stroke="#8c8c8c" stroke-width="1"/>
<line x1="524.5" y1="644.7" x2="526.5" y2="644.7" stroke="#c6c6c6" stroke-width="1"/>
<line x1="715.5" y1="644.7" x2="717.5" y2="644.7" stroke="#c6c6c6" stroke-width="1"/>
<line x1="524.5" y1="654.0" x2="527.1" y2="654.0" stroke="#8c8c8c" stroke-width="1"/>
<line x1="714.9" y1="654.0" x2="717.5" y2="654.0" stroke="#8c8c8c" stroke-width="1"/>
<line x1="524.5" y1="663.2" x2="526.5" y2="663.2" stroke="#c6c6c6" stroke-width="1"/>
<line x1="715.5" y1="663.2" x2="717.5" y2="663.2" stroke="#c6c6c6" stroke-width="1"/>
<line x1="524.5" y1="672.5" x2="527.1" y2="672.5" stroke="#8c8c8c" stroke-width="1"/>
<line x1="714.9" y1="672.5" x2="717.5" y2="672.5" stroke="#8c8c8c" stroke-width="1"/>
<text transform="translate(721.0,602.3) scale(1.22,1)" font-size="9.3" stroke="#3a3a3a" stroke-width="0.22" fill="#3a3a3a" textLength="5.3" lengthAdjust="spacing">5</text>
<text transform="translate(721.0,620.5) scale(1.22,1)" font-size="9.3" stroke="#3a3a3a" stroke-width="0.22" fill="#3a3a3a" textLength="5.3" lengthAdjust="spacing">4</text>
<text transform="translate(721.0,638.7) scale(1.22,1)" font-size="9.3" stroke="#3a3a3a" stroke-width="0.22" fill="#3a3a3a" textLength="5.3" lengthAdjust="spacing">3</text>
<text transform="translate(721.0,656.9) scale(1.22,1)" font-size="9.3" stroke="#3a3a3a" stroke-width="0.22" fill="#3a3a3a" textLength="5.3" lengthAdjust="spacing">2</text>
<text transform="translate(721.0,675.1) scale(1.22,1)" font-size="9.3" stroke="#3a3a3a" stroke-width="0.22" fill="#3a3a3a" textLength="5.3" lengthAdjust="spacing">1</text>
<line x1="524.5" y1="672.5" x2="717.5" y2="672.5" stroke="#646464" stroke-width="1"/>
<line x1="526.6" y1="670.7" x2="526.6" y2="672.5" stroke="#646464" stroke-width="0.9"/>
<line x1="547.6" y1="670.7" x2="547.6" y2="672.5" stroke="#646464" stroke-width="0.9"/>
<line x1="568.6" y1="670.7" x2="568.6" y2="672.5" stroke="#646464" stroke-width="0.9"/>
<line x1="589.6" y1="670.7" x2="589.6" y2="672.5" stroke="#646464" stroke-width="0.9"/>
<line x1="610.6" y1="670.7" x2="610.6" y2="672.5" stroke="#646464" stroke-width="0.9"/>
<line x1="631.6" y1="670.7" x2="631.6" y2="672.5" stroke="#646464" stroke-width="0.9"/>
<line x1="652.6" y1="670.7" x2="652.6" y2="672.5" stroke="#646464" stroke-width="0.9"/>
<line x1="673.6" y1="670.7" x2="673.6" y2="672.5" stroke="#646464" stroke-width="0.9"/>
<line x1="694.6" y1="670.7" x2="694.6" y2="672.5" stroke="#646464" stroke-width="0.9"/>
<line x1="715.6" y1="670.7" x2="715.6" y2="672.5" stroke="#646464" stroke-width="0.9"/>
<text transform="translate(514.3,683.3) scale(1.2,1)" font-size="9.3" stroke="#3a3a3a" stroke-width="0.22" fill="#3a3a3a" textLength="22.2" lengthAdjust="spacing">2006</text>
<text transform="translate(562.7,683.3) scale(1.2,1)" font-size="9.3" stroke="#3a3a3a" stroke-width="0.22" fill="#3a3a3a" textLength="11.2" lengthAdjust="spacing">08</text>
<text transform="translate(604.7,683.3) scale(1.2,1)" font-size="9.3" stroke="#3a3a3a" stroke-width="0.22" fill="#3a3a3a" textLength="11.2" lengthAdjust="spacing">10</text>
<text transform="translate(646.7,683.3) scale(1.2,1)" font-size="9.3" stroke="#3a3a3a" stroke-width="0.22" fill="#3a3a3a" textLength="11.2" lengthAdjust="spacing">12</text>
<text transform="translate(688.7,683.3) scale(1.2,1)" font-size="9.3" stroke="#3a3a3a" stroke-width="0.22" fill="#3a3a3a" textLength="11.2" lengthAdjust="spacing">14</text>
<polyline points="526.6,623.1 547.5,629.8 568.7,637.4 589.6,644.0 610.2,647.0 631.1,651.3 652.1,653.7 672.6,656.3" fill="none" stroke="#414141" stroke-width="1.85" stroke-linejoin="round"/>
<polyline points="526.6,623.1 547.5,629.8 568.7,634.7 589.6,640.7 610.2,643.0 631.1,647.4 652.1,650.3 672.6,653.3" fill="none" stroke="#151515" stroke-width="2.1" stroke-linejoin="round"/>
<text transform="translate(529.2,594.0) scale(1.12,1)" font-size="9.3" font-weight="bold" stroke="#111" stroke-width="0.35" fill="#111" textLength="123.2" lengthAdjust="spacing">Current Account Balance</text>
<text transform="translate(529.2,606.1) scale(1.12,1)" font-size="9.3" font-weight="bold" stroke="#111" stroke-width="0.35" fill="#111" textLength="83.0" lengthAdjust="spacing">(percent of GDP)</text>
<line x1="38.2" y1="710.8" x2="40.8" y2="710.8" stroke="#8c8c8c" stroke-width="1"/>
<line x1="228.8" y1="710.8" x2="231.4" y2="710.8" stroke="#8c8c8c" stroke-width="1"/>
<line x1="38.2" y1="720.0" x2="40.2" y2="720.0" stroke="#c6c6c6" stroke-width="1"/>
<line x1="229.4" y1="720.0" x2="231.4" y2="720.0" stroke="#c6c6c6" stroke-width="1"/>
<line x1="38.2" y1="729.2" x2="40.8" y2="729.2" stroke="#8c8c8c" stroke-width="1"/>
<line x1="228.8" y1="729.2" x2="231.4" y2="729.2" stroke="#8c8c8c" stroke-width="1"/>
<line x1="38.2" y1="738.4" x2="40.2" y2="738.4" stroke="#c6c6c6" stroke-width="1"/>
<line x1="229.4" y1="738.4" x2="231.4" y2="738.4" stroke="#c6c6c6" stroke-width="1"/>
<line x1="38.2" y1="747.6" x2="40.8" y2="747.6" stroke="#8c8c8c" stroke-width="1"/>
<line x1="228.8" y1="747.6" x2="231.4" y2="747.6" stroke="#8c8c8c" stroke-width="1"/>
<line x1="38.2" y1="756.9" x2="40.2" y2="756.9" stroke="#c6c6c6" stroke-width="1"/>
<line x1="229.4" y1="756.9" x2="231.4" y2="756.9" stroke="#c6c6c6" stroke-width="1"/>
<line x1="38.2" y1="766.1" x2="40.8" y2="766.1" stroke="#8c8c8c" stroke-width="1"/>
<line x1="228.8" y1="766.1" x2="231.4" y2="766.1" stroke="#8c8c8c" stroke-width="1"/>
<line x1="38.2" y1="775.3" x2="40.2" y2="775.3" stroke="#c6c6c6" stroke-width="1"/>
<line x1="229.4" y1="775.3" x2="231.4" y2="775.3" stroke="#c6c6c6" stroke-width="1"/>
<line x1="38.2" y1="784.5" x2="40.8" y2="784.5" stroke="#8c8c8c" stroke-width="1"/>
<line x1="228.8" y1="784.5" x2="231.4" y2="784.5" stroke="#8c8c8c" stroke-width="1"/>
<text transform="translate(28.0,715.3) scale(1.22,1)" font-size="9.3" stroke="#3a3a3a" stroke-width="0.22" fill="#3a3a3a" textLength="5.3" lengthAdjust="spacing">8</text>
<text transform="translate(28.0,733.0) scale(1.22,1)" font-size="9.3" stroke="#3a3a3a" stroke-width="0.22" fill="#3a3a3a" textLength="5.3" lengthAdjust="spacing">6</text>
<text transform="translate(28.0,750.8) scale(1.22,1)" font-size="9.3" stroke="#3a3a3a" stroke-width="0.22" fill="#3a3a3a" textLength="5.3" lengthAdjust="spacing">4</text>
<text transform="translate(28.0,768.5) scale(1.22,1)" font-size="9.3" stroke="#3a3a3a" stroke-width="0.22" fill="#3a3a3a" textLength="5.3" lengthAdjust="spacing">2</text>
<text transform="translate(28.0,786.2) scale(1.22,1)" font-size="9.3" stroke="#3a3a3a" stroke-width="0.22" fill="#3a3a3a" textLength="5.3" lengthAdjust="spacing">0</text>
<line x1="38.2" y1="784.5" x2="231.4" y2="784.5" stroke="#646464" stroke-width="1"/>
<line x1="49.0" y1="782.7" x2="49.0" y2="784.5" stroke="#646464" stroke-width="0.9"/>
<line x1="68.0" y1="782.7" x2="68.0" y2="784.5" stroke="#646464" stroke-width="0.9"/>
<line x1="87.0" y1="782.7" x2="87.0" y2="784.5" stroke="#646464" stroke-width="0.9"/>
<line x1="106.0" y1="782.7" x2="106.0" y2="784.5" stroke="#646464" stroke-width="0.9"/>
<line x1="125.0" y1="782.7" x2="125.0" y2="784.5" stroke="#646464" stroke-width="0.9"/>
<line x1="144.0" y1="782.7" x2="144.0" y2="784.5" stroke="#646464" stroke-width="0.9"/>
<line x1="163.0" y1="782.7" x2="163.0" y2="784.5" stroke="#646464" stroke-width="0.9"/>
<line x1="182.0" y1="782.7" x2="182.0" y2="784.5" stroke="#646464" stroke-width="0.9"/>
<line x1="201.0" y1="782.7" x2="201.0" y2="784.5" stroke="#646464" stroke-width="0.9"/>
<line x1="220.0" y1="782.7" x2="220.0" y2="784.5" stroke="#646464" stroke-width="0.9"/>
<text transform="translate(37.2,795.3) scale(1.2,1)" font-size="9.3" stroke="#3a3a3a" stroke-width="0.22" fill="#3a3a3a" textLength="22.5" lengthAdjust="spacing">2006</text>
<text transform="translate(80.8,795.3) scale(1.2,1)" font-size="9.3" stroke="#3a3a3a" stroke-width="0.22" fill="#3a3a3a" textLength="11.2" lengthAdjust="spacing">08</text>
<text transform="translate(118.8,795.3) scale(1.2,1)" font-size="9.3" stroke="#3a3a3a" stroke-width="0.22" fill="#3a3a3a" textLength="11.2" lengthAdjust="spacing">10</text>
<text transform="translate(156.8,795.3) scale(1.2,1)" font-size="9.3" stroke="#3a3a3a" stroke-width="0.22" fill="#3a3a3a" textLength="11.2" lengthAdjust="spacing">12</text>
<text transform="translate(194.8,795.3) scale(1.2,1)" font-size="9.3" stroke="#3a3a3a" stroke-width="0.22" fill="#3a3a3a" textLength="11.2" lengthAdjust="spacing">14</text>
<rect x="80.7" y="728.8" width="13.9" height="55.7" fill="#4d4d4d"/>
<rect x="99.6" y="735.2" width="14.3" height="49.3" fill="#4d4d4d"/>
<rect x="118.2" y="743.1" width="14.3" height="41.4" fill="#4d4d4d"/>
<rect x="136.8" y="749.1" width="14.3" height="35.4" fill="#4d4d4d"/>
<rect x="155.4" y="752.4" width="13.9" height="32.1" fill="#4d4d4d"/>
<rect x="174.0" y="754.4" width="14.3" height="30.1" fill="#4d4d4d"/>
<text transform="translate(43.9,712.9) scale(1.12,1)" font-size="9.3" font-weight="bold" stroke="#111" stroke-width="0.35" fill="#111" textLength="146.7" lengthAdjust="spacing">Real Effective Exchange Rate</text>
<text transform="translate(208.8,709.6) scale(1.12,1)" font-size="6.5" font-weight="bold" stroke="#111" stroke-width="0.24" fill="#111" textLength="3.9" lengthAdjust="spacing">1</text>
<text transform="translate(43.9,724.9) scale(1.12,1)" font-size="9.3" font-weight="bold" stroke="#111" stroke-width="0.35" fill="#111" textLength="44.9" lengthAdjust="spacing">(percent)</text>
<line x1="276.2" y1="710.8" x2="278.8" y2="710.8" stroke="#8c8c8c" stroke-width="1"/>
<line x1="466.9" y1="710.8" x2="469.5" y2="710.8" stroke="#8c8c8c" stroke-width="1"/>
<line x1="276.2" y1="720.0" x2="278.2" y2="720.0" stroke="#c6c6c6" stroke-width="1"/>
<line x1="467.5" y1="720.0" x2="469.5" y2="720.0" stroke="#c6c6c6" stroke-width="1"/>
<line x1="276.2" y1="729.2" x2="278.8" y2="729.2" stroke="#8c8c8c" stroke-width="1"/>
<line x1="466.9" y1="729.2" x2="469.5" y2="729.2" stroke="#8c8c8c" stroke-width="1"/>
<line x1="276.2" y1="738.4" x2="278.2" y2="738.4" stroke="#c6c6c6" stroke-width="1"/>
<line x1="467.5" y1="738.4" x2="469.5" y2="738.4" stroke="#c6c6c6" stroke-width="1"/>
<line x1="276.2" y1="747.6" x2="278.8" y2="747.6" stroke="#8c8c8c" stroke-width="1"/>
<line x1="466.9" y1="747.6" x2="469.5" y2="747.6" stroke="#8c8c8c" stroke-width="1"/>
<line x1="276.2" y1="756.9" x2="278.2" y2="756.9" stroke="#c6c6c6" stroke-width="1"/>
<line x1="467.5" y1="756.9" x2="469.5" y2="756.9" stroke="#c6c6c6" stroke-width="1"/>
<line x1="276.2" y1="766.1" x2="278.8" y2="766.1" stroke="#8c8c8c" stroke-width="1"/>
<line x1="466.9" y1="766.1" x2="469.5" y2="766.1" stroke="#8c8c8c" stroke-width="1"/>
<line x1="276.2" y1="775.3" x2="278.2" y2="775.3" stroke="#c6c6c6" stroke-width="1"/>
<line x1="467.5" y1="775.3" x2="469.5" y2="775.3" stroke="#c6c6c6" stroke-width="1"/>
<line x1="276.2" y1="784.5" x2="278.8" y2="784.5" stroke="#8c8c8c" stroke-width="1"/>
<line x1="466.9" y1="784.5" x2="469.5" y2="784.5" stroke="#8c8c8c" stroke-width="1"/>
<text transform="translate(473.0,714.8) scale(1.22,1)" font-size="9.3" stroke="#3a3a3a" stroke-width="0.22" fill="#3a3a3a" textLength="5.3" lengthAdjust="spacing">4</text>
<text transform="translate(473.0,732.9) scale(1.22,1)" font-size="9.3" stroke="#3a3a3a" stroke-width="0.22" fill="#3a3a3a" textLength="5.3" lengthAdjust="spacing">2</text>
<text transform="translate(473.0,750.9) scale(1.22,1)" font-size="9.3" stroke="#3a3a3a" stroke-width="0.22" fill="#3a3a3a" textLength="5.3" lengthAdjust="spacing">0</text>
<text transform="translate(470.9,769.0) scale(1.22,1)" font-size="9.3" stroke="#3a3a3a" stroke-width="0.22" fill="#3a3a3a" textLength="9.5" lengthAdjust="spacing">-2</text>
<text transform="translate(470.9,787.1) scale(1.22,1)" font-size="9.3" stroke="#3a3a3a" stroke-width="0.22" fill="#3a3a3a" textLength="9.5" lengthAdjust="spacing">-4</text>
<line x1="276.2" y1="748.5" x2="469.5" y2="748.5" stroke="#646464" stroke-width="1"/>
<line x1="276.2" y1="784.5" x2="469.5" y2="784.5" stroke="#646464" stroke-width="1"/>
<line x1="288.4" y1="782.7" x2="288.4" y2="784.5" stroke="#646464" stroke-width="0.9"/>
<line x1="307.4" y1="782.7" x2="307.4" y2="784.5" stroke="#646464" stroke-width="0.9"/>
<line x1="326.4" y1="782.7" x2="326.4" y2="784.5" stroke="#646464" stroke-width="0.9"/>
<line x1="345.4" y1="782.7" x2="345.4" y2="784.5" stroke="#646464" stroke-width="0.9"/>
<line x1="364.4" y1="782.7" x2="364.4" y2="784.5" stroke="#646464" stroke-width="0.9"/>
<line x1="383.4" y1="782.7" x2="383.4" y2="784.5" stroke="#646464" stroke-width="0.9"/>
<line x1="402.4" y1="782.7" x2="402.4" y2="784.5" stroke="#646464" stroke-width="0.9"/>
<line x1="421.4" y1="782.7" x2="421.4" y2="784.5" stroke="#646464" stroke-width="0.9"/>
<line x1="440.4" y1="782.7" x2="440.4" y2="784.5" stroke="#646464" stroke-width="0.9"/>
<line x1="459.4" y1="782.7" x2="459.4" y2="784.5" stroke="#646464" stroke-width="0.9"/>
<text transform="translate(276.6,795.3) scale(1.2,1)" font-size="9.3" stroke="#3a3a3a" stroke-width="0.22" fill="#3a3a3a" textLength="22.5" lengthAdjust="spacing">2006</text>
<text transform="translate(320.2,795.3) scale(1.2,1)" font-size="9.3" stroke="#3a3a3a" stroke-width="0.22" fill="#3a3a3a" textLength="11.2" lengthAdjust="spacing">08</text>
<text transform="translate(358.2,795.3) scale(1.2,1)" font-size="9.3" stroke="#3a3a3a" stroke-width="0.22" fill="#3a3a3a" textLength="11.2" lengthAdjust="spacing">10</text>
<text transform="translate(396.2,795.3) scale(1.2,1)" font-size="9.3" stroke="#3a3a3a" stroke-width="0.22" fill="#3a3a3a" textLength="11.2" lengthAdjust="spacing">12</text>
<text transform="translate(434.2,795.3) scale(1.2,1)" font-size="9.3" stroke="#3a3a3a" stroke-width="0.22" fill="#3a3a3a" textLength="11.2" lengthAdjust="spacing">14</text>
<rect x="319.1" y="748.5" width="14.3" height="6.2" fill="#4d4d4d"/>
<rect x="338.3" y="748.5" width="13.9" height="9.2" fill="#4d4d4d"/>
<rect x="356.9" y="748.5" width="14.3" height="7.9" fill="#4d4d4d"/>
<rect x="375.5" y="748.5" width="13.9" height="8.6" fill="#4d4d4d"/>
<rect x="394.4" y="748.5" width="14.3" height="10.2" fill="#4d4d4d"/>
<rect x="412.7" y="748.5" width="14.3" height="11.6" fill="#4d4d4d"/>
<text transform="translate(282.2,712.9) scale(1.12,1)" font-size="9.3" font-weight="bold" stroke="#111" stroke-width="0.35" fill="#111" textLength="146.7" lengthAdjust="spacing">Real Effective Exchange Rate</text>
<text transform="translate(447.1,709.6) scale(1.12,1)" font-size="6.5" font-weight="bold" stroke="#111" stroke-width="0.24" fill="#111" textLength="3.9" lengthAdjust="spacing">1</text>
<text transform="translate(282.2,724.9) scale(1.12,1)" font-size="9.3" font-weight="bold" stroke="#111" stroke-width="0.35" fill="#111" textLength="44.9" lengthAdjust="spacing">(percent)</text>
<line x1="524.5" y1="710.8" x2="527.1" y2="710.8" stroke="#8c8c8c" stroke-width="1"/>
<line x1="714.9" y1="710.8" x2="717.5" y2="710.8" stroke="#8c8c8c" stroke-width="1"/>
<line x1="524.5" y1="720.0" x2="526.5" y2="720.0" stroke="#c6c6c6" stroke-width="1"/>
<line x1="715.5" y1="720.0" x2="717.5" y2="720.0" stroke="#c6c6c6" stroke-width="1"/>
<line x1="524.5" y1="729.2" x2="527.1" y2="729.2" stroke="#8c8c8c" stroke-width="1"/>
<line x1="714.9" y1="729.2" x2="717.5" y2="729.2" stroke="#8c8c8c" stroke-width="1"/>
<line x1="524.5" y1="738.4" x2="526.5" y2="738.4" stroke="#c6c6c6" stroke-width="1"/>
<line x1="715.5" y1="738.4" x2="717.5" y2="738.4" stroke="#c6c6c6" stroke-width="1"/>
<line x1="524.5" y1="747.6" x2="527.1" y2="747.6" stroke="#8c8c8c" stroke-width="1"/>
<line x1="714.9" y1="747.6" x2="717.5" y2="747.6" stroke="#8c8c8c" stroke-width="1"/>
<line x1="524.5" y1="756.9" x2="526.5" y2="756.9" stroke="#c6c6c6" stroke-width="1"/>
<line x1="715.5" y1="756.9" x2="717.5" y2="756.9" stroke="#c6c6c6" stroke-width="1"/>
<line x1="524.5" y1="766.1" x2="527.1" y2="766.1" stroke="#8c8c8c" stroke-width="1"/>
<line x1="714.9" y1="766.1" x2="717.5" y2="766.1" stroke="#8c8c8c" stroke-width="1"/>
<line x1="524.5" y1="775.3" x2="526.5" y2="775.3" stroke="#c6c6c6" stroke-width="1"/>
<line x1="715.5" y1="775.3" x2="717.5" y2="775.3" stroke="#c6c6c6" stroke-width="1"/>
<line x1="524.5" y1="784.5" x2="527.1" y2="784.5" stroke="#8c8c8c" stroke-width="1"/>
<line x1="714.9" y1="784.5" x2="717.5" y2="784.5" stroke="#8c8c8c" stroke-width="1"/>
<text transform="translate(721.0,714.8) scale(1.22,1)" font-size="9.3" stroke="#3a3a3a" stroke-width="0.22" fill="#3a3a3a" textLength="5.3" lengthAdjust="spacing">4</text>
<text transform="translate(721.0,732.9) scale(1.22,1)" font-size="9.3" stroke="#3a3a3a" stroke-width="0.22" fill="#3a3a3a" textLength="5.3" lengthAdjust="spacing">2</text>
<text transform="translate(721.0,750.9) scale(1.22,1)" font-size="9.3" stroke="#3a3a3a" stroke-width="0.22" fill="#3a3a3a" textLength="5.3" lengthAdjust="spacing">0</text>
<text transform="translate(718.9,769.0) scale(1.22,1)" font-size="9.3" stroke="#3a3a3a" stroke-width="0.22" fill="#3a3a3a" textLength="9.5" lengthAdjust="spacing">-2</text>
<text transform="translate(718.9,787.1) scale(1.22,1)" font-size="9.3" stroke="#3a3a3a" stroke-width="0.22" fill="#3a3a3a" textLength="9.5" lengthAdjust="spacing">-4</text>
<line x1="524.5" y1="748.5" x2="717.5" y2="748.5" stroke="#646464" stroke-width="1"/>
<line x1="524.5" y1="784.5" x2="717.5" y2="784.5" stroke="#646464" stroke-width="1"/>
<line x1="535.0" y1="782.7" x2="535.0" y2="784.5" stroke="#646464" stroke-width="0.9"/>
<line x1="554.0" y1="782.7" x2="554.0" y2="784.5" stroke="#646464" stroke-width="0.9"/>
<line x1="573.0" y1="782.7" x2="573.0" y2="784.5" stroke="#646464" stroke-width="0.9"/>
<line x1="592.0" y1="782.7" x2="592.0" y2="784.5" stroke="#646464" stroke-width="0.9"/>
<line x1="611.0" y1="782.7" x2="611.0" y2="784.5" stroke="#646464" stroke-width="0.9"/>
<line x1="630.0" y1="782.7" x2="630.0" y2="784.5" stroke="#646464" stroke-width="0.9"/>
<line x1="649.0" y1="782.7" x2="649.0" y2="784.5" stroke="#646464" stroke-width="0.9"/>
<line x1="668.0" y1="782.7" x2="668.0" y2="784.5" stroke="#646464" stroke-width="0.9"/>
<line x1="687.0" y1="782.7" x2="687.0" y2="784.5" stroke="#646464" stroke-width="0.9"/>
<line x1="706.0" y1="782.7" x2="706.0" y2="784.5" stroke="#646464" stroke-width="0.9"/>
<text transform="translate(523.2,795.3) scale(1.2,1)" font-size="9.3" stroke="#3a3a3a" stroke-width="0.22" fill="#3a3a3a" textLength="22.5" lengthAdjust="spacing">2006</text>
<text transform="translate(566.8,795.3) scale(1.2,1)" font-size="9.3" stroke="#3a3a3a" stroke-width="0.22" fill="#3a3a3a" textLength="11.2" lengthAdjust="spacing">08</text>
<text transform="translate(604.8,795.3) scale(1.2,1)" font-size="9.3" stroke="#3a3a3a" stroke-width="0.22" fill="#3a3a3a" textLength="11.2" lengthAdjust="spacing">10</text>
<text transform="translate(642.8,795.3) scale(1.2,1)" font-size="9.3" stroke="#3a3a3a" stroke-width="0.22" fill="#3a3a3a" textLength="11.2" lengthAdjust="spacing">12</text>
<text transform="translate(680.8,795.3) scale(1.2,1)" font-size="9.3" stroke="#3a3a3a" stroke-width="0.22" fill="#3a3a3a" textLength="11.2" lengthAdjust="spacing">14</text>
<rect x="566.4" y="748.5" width="14.3" height="10.2" fill="#4d4d4d"/>
<rect x="585.0" y="748.5" width="13.9" height="7.6" fill="#4d4d4d"/>
<rect x="603.9" y="748.5" width="14.3" height="6.2" fill="#4d4d4d"/>
<rect x="622.8" y="748.5" width="13.9" height="4.6" fill="#4d4d4d"/>
<rect x="641.1" y="748.5" width="14.3" height="3.3" fill="#4d4d4d"/>
<rect x="660.4" y="748.5" width="13.9" height="2.9" fill="#4d4d4d"/>
<text transform="translate(529.2,712.9) scale(1.12,1)" font-size="9.3" font-weight="bold" stroke="#111" stroke-width="0.35" fill="#111" textLength="146.7" lengthAdjust="spacing">Real Effective Exchange Rate</text>
<text transform="translate(694.1,709.6) scale(1.12,1)" font-size="6.5" font-weight="bold" stroke="#111" stroke-width="0.24" fill="#111" textLength="3.9" lengthAdjust="spacing">1</text>
<text transform="translate(529.2,724.9) scale(1.12,1)" font-size="9.3" font-weight="bold" stroke="#111" stroke-width="0.35" fill="#111" textLength="44.9" lengthAdjust="spacing">(percent)</text>
<text transform="translate(25.3,824.6) scale(1.12,1)" font-size="9.3" stroke="#333" stroke-width="0.22" fill="#333" textLength="124.7" lengthAdjust="spacing">Source: IMF staff estimates.</text>
<text transform="translate(26.6,832.6) scale(1.12,1)" font-size="6.5" font-weight="bold" stroke="#333" stroke-width="0.24" fill="#333" textLength="3.9" lengthAdjust="spacing">1</text>
<text transform="translate(32.2,835.7) scale(1.12,1)" font-size="9.3" stroke="#333" stroke-width="0.22" fill="#333" textLength="189.7" lengthAdjust="spacing">A positive value represents a depreciation.</text>
</g>
</svg>
</body></html>
